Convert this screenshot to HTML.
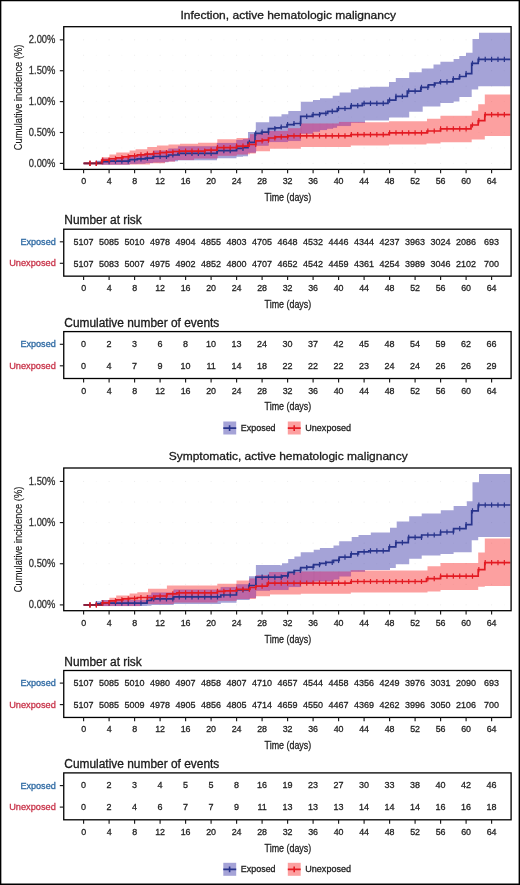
<!DOCTYPE html>
<html><head><meta charset="utf-8"><style>
html,body{margin:0;padding:0;background:#fff;}
svg{display:block;font-family:"Liberation Sans", sans-serif;-webkit-font-smoothing:antialiased;will-change:transform;}
</style></head><body>
<svg width="520" height="885" viewBox="0 0 520 885">
<rect x="0" y="0" width="520" height="885" fill="#fff"/>
<g transform="translate(0,0)">
<text x="288.20" y="18.60" font-size="11.4" text-anchor="middle" fill="#1a1a1a" stroke="#1a1a1a" stroke-width="0.3" textLength="215.6" lengthAdjust="spacingAndGlyphs" >Infection, active hematologic malignancy</text>
<path d="M83.10,163.40h1M83.10,147.96h1M83.10,132.51h1M83.10,117.06h1M83.10,101.62h1M83.10,86.18h1M83.10,70.73h1M83.10,55.28h1M83.10,39.84h1M108.60,163.40h1M108.60,147.96h1M108.60,132.51h1M108.60,117.06h1M108.60,101.62h1M108.60,86.18h1M108.60,70.73h1M108.60,55.28h1M108.60,39.84h1M134.10,163.40h1M134.10,147.96h1M134.10,132.51h1M134.10,117.06h1M134.10,101.62h1M134.10,86.18h1M134.10,70.73h1M134.10,55.28h1M134.10,39.84h1M159.60,163.40h1M159.60,147.96h1M159.60,132.51h1M159.60,117.06h1M159.60,101.62h1M159.60,86.18h1M159.60,70.73h1M159.60,55.28h1M159.60,39.84h1M185.10,163.40h1M185.10,147.96h1M185.10,132.51h1M185.10,117.06h1M185.10,101.62h1M185.10,86.18h1M185.10,70.73h1M185.10,55.28h1M185.10,39.84h1M210.60,163.40h1M210.60,147.96h1M210.60,132.51h1M210.60,117.06h1M210.60,101.62h1M210.60,86.18h1M210.60,70.73h1M210.60,55.28h1M210.60,39.84h1M236.10,163.40h1M236.10,147.96h1M236.10,132.51h1M236.10,117.06h1M236.10,101.62h1M236.10,86.18h1M236.10,70.73h1M236.10,55.28h1M236.10,39.84h1M261.60,163.40h1M261.60,147.96h1M261.60,132.51h1M261.60,117.06h1M261.60,101.62h1M261.60,86.18h1M261.60,70.73h1M261.60,55.28h1M261.60,39.84h1M287.10,163.40h1M287.10,147.96h1M287.10,132.51h1M287.10,117.06h1M287.10,101.62h1M287.10,86.18h1M287.10,70.73h1M287.10,55.28h1M287.10,39.84h1M312.60,163.40h1M312.60,147.96h1M312.60,132.51h1M312.60,117.06h1M312.60,101.62h1M312.60,86.18h1M312.60,70.73h1M312.60,55.28h1M312.60,39.84h1M338.10,163.40h1M338.10,147.96h1M338.10,132.51h1M338.10,117.06h1M338.10,101.62h1M338.10,86.18h1M338.10,70.73h1M338.10,55.28h1M338.10,39.84h1M363.60,163.40h1M363.60,147.96h1M363.60,132.51h1M363.60,117.06h1M363.60,101.62h1M363.60,86.18h1M363.60,70.73h1M363.60,55.28h1M363.60,39.84h1M389.10,163.40h1M389.10,147.96h1M389.10,132.51h1M389.10,117.06h1M389.10,101.62h1M389.10,86.18h1M389.10,70.73h1M389.10,55.28h1M389.10,39.84h1M414.60,163.40h1M414.60,147.96h1M414.60,132.51h1M414.60,117.06h1M414.60,101.62h1M414.60,86.18h1M414.60,70.73h1M414.60,55.28h1M414.60,39.84h1M440.10,163.40h1M440.10,147.96h1M440.10,132.51h1M440.10,117.06h1M440.10,101.62h1M440.10,86.18h1M440.10,70.73h1M440.10,55.28h1M440.10,39.84h1M465.60,163.40h1M465.60,147.96h1M465.60,132.51h1M465.60,117.06h1M465.60,101.62h1M465.60,86.18h1M465.60,70.73h1M465.60,55.28h1M465.60,39.84h1M491.10,163.40h1M491.10,147.96h1M491.10,132.51h1M491.10,117.06h1M491.10,101.62h1M491.10,86.18h1M491.10,70.73h1M491.10,55.28h1M491.10,39.84h1" stroke="#ececec" stroke-width="1" fill="none"/>
<path d="M95.85,163.40h1M95.85,147.96h1M95.85,132.51h1M95.85,117.06h1M95.85,101.62h1M95.85,86.18h1M95.85,70.73h1M95.85,55.28h1M95.85,39.84h1M121.35,163.40h1M121.35,147.96h1M121.35,132.51h1M121.35,117.06h1M121.35,101.62h1M121.35,86.18h1M121.35,70.73h1M121.35,55.28h1M121.35,39.84h1M146.85,163.40h1M146.85,147.96h1M146.85,132.51h1M146.85,117.06h1M146.85,101.62h1M146.85,86.18h1M146.85,70.73h1M146.85,55.28h1M146.85,39.84h1M172.35,163.40h1M172.35,147.96h1M172.35,132.51h1M172.35,117.06h1M172.35,101.62h1M172.35,86.18h1M172.35,70.73h1M172.35,55.28h1M172.35,39.84h1M197.85,163.40h1M197.85,147.96h1M197.85,132.51h1M197.85,117.06h1M197.85,101.62h1M197.85,86.18h1M197.85,70.73h1M197.85,55.28h1M197.85,39.84h1M223.35,163.40h1M223.35,147.96h1M223.35,132.51h1M223.35,117.06h1M223.35,101.62h1M223.35,86.18h1M223.35,70.73h1M223.35,55.28h1M223.35,39.84h1M248.85,163.40h1M248.85,147.96h1M248.85,132.51h1M248.85,117.06h1M248.85,101.62h1M248.85,86.18h1M248.85,70.73h1M248.85,55.28h1M248.85,39.84h1M274.35,163.40h1M274.35,147.96h1M274.35,132.51h1M274.35,117.06h1M274.35,101.62h1M274.35,86.18h1M274.35,70.73h1M274.35,55.28h1M274.35,39.84h1M299.85,163.40h1M299.85,147.96h1M299.85,132.51h1M299.85,117.06h1M299.85,101.62h1M299.85,86.18h1M299.85,70.73h1M299.85,55.28h1M299.85,39.84h1M325.35,163.40h1M325.35,147.96h1M325.35,132.51h1M325.35,117.06h1M325.35,101.62h1M325.35,86.18h1M325.35,70.73h1M325.35,55.28h1M325.35,39.84h1M350.85,163.40h1M350.85,147.96h1M350.85,132.51h1M350.85,117.06h1M350.85,101.62h1M350.85,86.18h1M350.85,70.73h1M350.85,55.28h1M350.85,39.84h1M376.35,163.40h1M376.35,147.96h1M376.35,132.51h1M376.35,117.06h1M376.35,101.62h1M376.35,86.18h1M376.35,70.73h1M376.35,55.28h1M376.35,39.84h1M401.85,163.40h1M401.85,147.96h1M401.85,132.51h1M401.85,117.06h1M401.85,101.62h1M401.85,86.18h1M401.85,70.73h1M401.85,55.28h1M401.85,39.84h1M427.35,163.40h1M427.35,147.96h1M427.35,132.51h1M427.35,117.06h1M427.35,101.62h1M427.35,86.18h1M427.35,70.73h1M427.35,55.28h1M427.35,39.84h1M452.85,163.40h1M452.85,147.96h1M452.85,132.51h1M452.85,117.06h1M452.85,101.62h1M452.85,86.18h1M452.85,70.73h1M452.85,55.28h1M452.85,39.84h1M478.35,163.40h1M478.35,147.96h1M478.35,132.51h1M478.35,117.06h1M478.35,101.62h1M478.35,86.18h1M478.35,70.73h1M478.35,55.28h1M478.35,39.84h1M503.85,163.40h1M503.85,147.96h1M503.85,132.51h1M503.85,117.06h1M503.85,101.62h1M503.85,86.18h1M503.85,70.73h1M503.85,55.28h1M503.85,39.84h1" stroke="#f7f7f7" stroke-width="1" fill="none"/>
<path d="M97.00,160.68 L101.70,160.68 L101.70,158.72 L109.40,158.72 L109.40,158.01 L129.60,158.01 L129.60,155.56 L137.30,155.56 L137.30,154.34 L145.40,154.34 L145.40,153.30 L153.00,153.30 L153.00,150.85 L168.50,150.85 L168.50,148.77 L178.00,148.77 L178.00,146.47 L217.00,146.47 L217.00,142.91 L236.50,142.91 L236.50,139.95 L243.00,139.95 L243.00,139.18 L248.00,139.18 L248.00,132.00 L255.80,132.00 L255.80,122.30 L256.00,122.30 L256.00,122.30 L268.50,122.30 L268.50,122.30 L269.20,122.30 L269.20,116.40 L281.50,116.40 L281.50,114.20 L288.00,114.20 L288.00,114.20 L288.30,114.20 L288.30,111.00 L300.70,111.00 L300.70,111.00 L300.80,111.00 L300.80,101.80 L313.00,101.80 L313.00,100.00 L320.00,100.00 L320.00,98.30 L327.00,98.30 L327.00,98.30 L332.70,98.30 L332.70,95.80 L333.00,95.80 L333.00,95.80 L337.00,95.80 L337.00,95.80 L339.60,95.80 L339.60,92.50 L350.80,92.50 L350.80,89.20 L358.50,89.20 L358.50,87.50 L365.00,87.50 L365.00,87.50 L370.00,87.50 L370.00,86.70 L389.00,86.70 L389.00,81.90 L395.80,81.90 L395.80,78.10 L409.20,78.10 L409.20,72.30 L421.70,72.30 L421.70,68.50 L422.70,68.50 L422.70,68.50 L433.50,68.50 L433.50,64.40 L440.40,64.40 L440.40,61.80 L453.60,61.80 L453.60,59.10 L459.30,59.10 L459.30,56.00 L459.40,56.00 L459.40,56.00 L466.00,56.00 L466.00,52.80 L471.70,52.80 L471.70,52.80 L472.50,52.80 L472.50,38.90 L478.20,38.90 L478.20,38.90 L479.00,38.90 L479.00,32.80 L510.30,32.80 L510.30,86.30 L479.00,86.30 L479.00,86.30 L478.20,86.30 L478.20,89.60 L472.50,89.60 L472.50,89.60 L471.70,89.60 L471.70,96.90 L466.00,96.90 L466.00,96.90 L459.40,96.90 L459.40,101.50 L459.30,101.50 L459.30,101.50 L453.60,101.50 L453.60,103.00 L440.40,103.00 L440.40,106.50 L433.50,106.50 L433.50,106.50 L422.70,106.50 L422.70,111.70 L421.70,111.70 L421.70,111.70 L409.20,111.70 L409.20,117.50 L395.80,117.50 L395.80,117.50 L389.00,117.50 L389.00,120.40 L370.00,120.40 L370.00,120.40 L365.00,120.40 L365.00,122.50 L358.50,122.50 L358.50,122.50 L350.80,122.50 L350.80,125.80 L339.60,125.80 L339.60,125.80 L337.00,125.80 L337.00,127.40 L333.00,127.40 L333.00,128.50 L332.70,128.50 L332.70,128.50 L327.00,128.50 L327.00,130.00 L320.00,130.00 L320.00,131.50 L313.00,131.50 L313.00,133.50 L300.80,133.50 L300.80,133.50 L300.70,133.50 L300.70,140.80 L288.30,140.80 L288.30,140.80 L288.00,140.80 L288.00,142.00 L281.50,142.00 L281.50,142.00 L269.20,142.00 L269.20,142.00 L268.50,142.00 L268.50,145.40 L256.00,145.40 L256.00,152.40 L255.80,152.40 L255.80,152.40 L248.00,152.40 L248.00,156.22 L243.00,156.22 L243.00,156.65 L236.50,156.65 L236.50,158.29 L217.00,158.29 L217.00,160.13 L178.00,160.13 L178.00,161.23 L168.50,161.23 L168.50,162.15 L153.00,162.15 L153.00,163.10 L145.40,163.10 L145.40,163.46 L137.30,163.46 L137.30,163.84 L129.60,163.84 L129.60,164.39 L109.40,164.39 L109.40,164.48 L101.70,164.48 L101.70,164.52 L97.00,164.52Z" fill="rgba(14,8,148,0.373)" stroke="none"/>
<path d="M101.70,157.30 L109.40,157.30 L109.40,154.40 L116.20,154.40 L116.20,152.50 L129.60,152.50 L129.60,150.60 L135.60,150.60 L135.60,149.20 L147.30,149.20 L147.30,147.00 L150.00,147.00 L150.00,147.00 L156.90,147.00 L156.90,145.40 L165.00,145.40 L165.00,145.40 L168.50,145.40 L168.50,144.40 L175.00,144.40 L175.00,144.40 L180.00,144.40 L180.00,143.80 L194.00,143.80 L194.00,143.80 L198.00,143.80 L198.00,142.70 L217.30,142.70 L217.30,139.20 L236.50,139.20 L236.50,137.90 L250.00,137.90 L250.00,134.50 L255.80,134.50 L255.80,134.50 L256.00,134.50 L256.00,133.50 L268.50,133.50 L268.50,131.00 L270.00,131.00 L270.00,131.00 L288.00,131.00 L288.00,128.50 L300.70,128.50 L300.70,123.80 L300.80,123.80 L300.80,123.80 L339.00,123.80 L339.00,122.00 L350.80,122.00 L350.80,122.00 L365.00,122.00 L365.00,122.30 L389.00,122.30 L389.00,121.30 L426.50,121.30 L426.50,121.30 L427.00,121.30 L427.00,118.80 L440.50,118.80 L440.50,115.70 L471.70,115.70 L471.70,110.80 L478.20,110.80 L478.20,104.30 L484.80,104.30 L484.80,94.50 L510.30,94.50 L510.30,136.10 L484.80,136.10 L484.80,139.40 L478.20,139.40 L478.20,139.40 L471.70,139.40 L471.70,142.20 L440.50,142.20 L440.50,143.50 L427.00,143.50 L427.00,143.50 L426.50,143.50 L426.50,144.40 L389.00,144.40 L389.00,145.40 L365.00,145.40 L365.00,145.40 L350.80,145.40 L350.80,146.90 L339.00,146.90 L339.00,146.90 L300.80,146.90 L300.80,148.80 L300.70,148.80 L300.70,148.80 L288.00,148.80 L288.00,148.80 L270.00,148.80 L270.00,151.30 L268.50,151.30 L268.50,151.30 L256.00,151.30 L256.00,151.30 L255.80,151.30 L255.80,153.50 L250.00,153.50 L250.00,154.20 L236.50,154.20 L236.50,155.50 L217.30,155.50 L217.30,158.20 L198.00,158.20 L198.00,158.20 L194.00,158.20 L194.00,160.00 L180.00,160.00 L180.00,160.00 L175.00,160.00 L175.00,161.50 L168.50,161.50 L168.50,161.50 L165.00,161.50 L165.00,163.20 L156.90,163.20 L156.90,163.20 L150.00,163.20 L150.00,164.40 L147.30,164.40 L147.30,164.40 L135.60,164.40 L135.60,164.40 L129.60,164.40 L129.60,164.40 L116.20,164.40 L116.20,164.40 L109.40,164.40 L109.40,164.40 L101.70,164.40Z" fill="rgba(247,0,0,0.373)" stroke="none"/>
<path d="M101.70,158.72H109.40V164.40H101.70ZM109.40,158.01H116.20V164.39H109.40ZM116.20,158.01H129.60V164.39H116.20ZM129.60,155.56H135.60V163.84H129.60ZM135.60,155.56H137.30V163.84H135.60ZM137.30,154.34H145.40V163.46H137.30ZM145.40,153.30H147.30V163.10H145.40ZM147.30,153.30H150.00V163.10H147.30ZM150.00,153.30H153.00V163.10H150.00ZM153.00,150.85H156.90V162.15H153.00ZM156.90,150.85H165.00V162.15H156.90ZM165.00,150.85H168.50V161.50H165.00ZM168.50,148.77H175.00V161.23H168.50ZM175.00,148.77H178.00V160.00H175.00ZM178.00,146.47H180.00V160.00H178.00ZM180.00,146.47H194.00V160.00H180.00ZM194.00,146.47H198.00V158.20H194.00ZM198.00,146.47H217.00V158.20H198.00ZM217.00,142.91H217.30V158.20H217.00ZM217.30,142.91H236.50V155.50H217.30ZM236.50,139.95H243.00V154.20H236.50ZM243.00,139.18H248.00V154.20H243.00ZM248.00,137.90H250.00V152.40H248.00ZM250.00,134.50H255.80V152.40H250.00ZM255.80,134.50H256.00V151.30H255.80ZM256.00,133.50H268.50V145.40H256.00ZM268.50,131.00H269.20V142.00H268.50ZM269.20,131.00H270.00V142.00H269.20ZM270.00,131.00H281.50V142.00H270.00ZM281.50,131.00H288.00V142.00H281.50ZM288.00,128.50H288.30V140.80H288.00ZM288.30,128.50H300.70V140.80H288.30ZM300.70,123.80H300.80V133.50H300.70ZM300.80,123.80H313.00V133.50H300.80ZM313.00,123.80H320.00V131.50H313.00ZM320.00,123.80H327.00V130.00H320.00ZM327.00,123.80H332.70V128.50H327.00ZM332.70,123.80H333.00V128.50H332.70ZM333.00,123.80H337.00V127.40H333.00ZM337.00,123.80H339.00V125.80H337.00ZM339.00,122.00H339.60V125.80H339.00ZM339.60,122.00H350.80V125.80H339.60ZM350.80,122.00H358.50V122.50H350.80ZM358.50,122.00H365.00V122.50H358.50Z" fill="rgb(190,102,165)" stroke="rgb(190,102,165)" stroke-width="0.15"/>
<path d="M83.60,163.40H97.00V162.60H101.70V161.60H109.40V161.20H129.60V159.70H137.30V158.90H145.40V158.20H153.00V156.50H168.50V155.00H178.00V153.30H217.00V150.60H236.50V148.30H243.00V147.70H248.00V142.30H255.00V133.30H261.50V132.20H268.50V128.70H275.40V127.90H281.00V127.00H287.00V124.70H293.80V123.50H300.70V116.40H312.30V114.60H320.00V113.30H327.70V111.30H337.30V108.50H350.80V105.60H362.30V103.40H388.00V100.20H395.80V96.30H407.30V91.20H420.80V87.30H428.50V84.80H435.00V83.00H440.00V81.90H453.00V78.90H459.40V76.50H466.00V73.70H471.70V63.40H478.20V59.30H510.30" fill="none" stroke="#28348c" stroke-width="1.7"/>
<path d="M89.97,160.80V166.00M96.35,160.80V166.00M102.72,159.00V164.20M109.10,159.00V164.20M115.47,158.60V163.80M121.85,158.60V163.80M128.22,158.60V163.80M134.60,157.10V162.30M140.97,156.30V161.50M147.35,155.60V160.80M153.72,153.90V159.10M160.10,153.90V159.10M166.47,153.90V159.10M172.85,152.40V157.60M179.22,150.70V155.90M185.60,150.70V155.90M191.97,150.70V155.90M198.35,150.70V155.90M204.72,150.70V155.90M211.10,150.70V155.90M217.47,148.00V153.20M223.85,148.00V153.20M230.22,148.00V153.20M236.60,145.70V150.90M242.97,145.70V150.90M249.35,139.70V144.90M255.72,130.70V135.90M262.10,129.60V134.80M268.48,129.60V134.80M274.85,126.10V131.30M281.23,124.40V129.60M287.60,122.10V127.30M293.98,120.90V126.10M300.35,120.90V126.10M306.73,113.80V119.00M313.10,112.00V117.20M319.48,112.00V117.20M325.85,110.70V115.90M332.23,108.70V113.90M338.60,105.90V111.10M344.98,105.90V111.10M351.35,103.00V108.20M357.73,103.00V108.20M364.10,100.80V106.00M370.48,100.80V106.00M376.85,100.80V106.00M383.23,100.80V106.00M389.60,97.60V102.80M395.98,93.70V98.90M402.35,93.70V98.90M408.73,88.60V93.80M415.10,88.60V93.80M421.48,84.70V89.90M427.85,84.70V89.90M434.23,82.20V87.40M440.60,79.30V84.50M446.98,79.30V84.50M453.35,76.30V81.50M459.73,73.90V79.10M466.10,71.10V76.30M472.48,60.80V66.00M478.85,56.70V61.90M485.23,56.70V61.90M491.60,56.70V61.90M497.98,56.70V61.90M504.35,56.70V61.90" stroke="#28348c" stroke-width="1.2" fill="none"/>
<path d="M83.60,163.40H101.70V160.20H109.40V158.75H116.20V157.80H122.90V156.80H129.60V155.90H137.30V154.90H145.00V154.20H153.00V153.50H160.00V152.70H166.50V152.10H173.00V151.50H180.00V151.10H205.00V150.20H217.00V147.60H236.50V146.20H248.00V144.50H255.80V140.80H262.70V140.20H268.50V138.00H275.40V136.80H288.00V135.80H350.80V134.60H389.00V132.90H427.00V131.00H440.50V128.90H471.00V125.00H478.20V120.60H484.80V114.60H510.30" fill="none" stroke="#e31a22" stroke-width="1.7"/>
<path d="M89.97,160.80V166.00M96.35,160.80V166.00M102.72,157.60V162.80M109.10,157.60V162.80M115.47,156.15V161.35M121.85,155.20V160.40M128.22,154.20V159.40M134.60,153.30V158.50M140.97,152.30V157.50M147.35,151.60V156.80M153.72,150.90V156.10M160.10,150.10V155.30M166.47,150.10V155.30M172.85,149.50V154.70M179.22,148.90V154.10M185.60,148.50V153.70M191.97,148.50V153.70M198.35,148.50V153.70M204.72,148.50V153.70M211.10,147.60V152.80M217.47,145.00V150.20M223.85,145.00V150.20M230.22,145.00V150.20M236.60,143.60V148.80M242.97,143.60V148.80M249.35,141.90V147.10M255.72,141.90V147.10M262.10,138.20V143.40M268.48,137.60V142.80M274.85,135.40V140.60M281.23,134.20V139.40M287.60,134.20V139.40M293.98,133.20V138.40M300.35,133.20V138.40M306.73,133.20V138.40M313.10,133.20V138.40M319.48,133.20V138.40M325.85,133.20V138.40M332.23,133.20V138.40M338.60,133.20V138.40M344.98,133.20V138.40M351.35,132.00V137.20M357.73,132.00V137.20M364.10,132.00V137.20M370.48,132.00V137.20M376.85,132.00V137.20M383.23,132.00V137.20M389.60,130.30V135.50M395.98,130.30V135.50M402.35,130.30V135.50M408.73,130.30V135.50M415.10,130.30V135.50M421.48,130.30V135.50M427.85,128.40V133.60M434.23,128.40V133.60M440.60,126.30V131.50M446.98,126.30V131.50M453.35,126.30V131.50M459.73,126.30V131.50M466.10,126.30V131.50M472.48,122.40V127.60M478.85,118.00V123.20M485.23,112.00V117.20M491.60,112.00V117.20M497.98,112.00V117.20M504.35,112.00V117.20" stroke="#e31a22" stroke-width="1.2" fill="none"/>
<path d="M83.6,163.40H101.70" stroke="#7a1d3c" stroke-width="1.5" fill="none"/>
<path d="M89.97,160.80V166.00M96.35,160.80V166.00" stroke="#e31a22" stroke-width="1.2" fill="none"/>
<rect x="63.75" y="26.7" width="447.35" height="142.70" fill="none" stroke="#000" stroke-width="1.3"/>
<line x1="59.8" y1="163.40" x2="63.75" y2="163.40" stroke="#1a1a1a" stroke-width="1.15"/>
<text transform="translate(55.40,166.70) scale(0.885,1)" font-size="10.6" text-anchor="end" fill="#333" stroke="#333" stroke-width="0.3" >0.00%</text>
<line x1="59.8" y1="132.51" x2="63.75" y2="132.51" stroke="#1a1a1a" stroke-width="1.15"/>
<text transform="translate(55.40,135.81) scale(0.885,1)" font-size="10.6" text-anchor="end" fill="#333" stroke="#333" stroke-width="0.3" >0.50%</text>
<line x1="59.8" y1="101.62" x2="63.75" y2="101.62" stroke="#1a1a1a" stroke-width="1.15"/>
<text transform="translate(55.40,104.92) scale(0.885,1)" font-size="10.6" text-anchor="end" fill="#333" stroke="#333" stroke-width="0.3" >1.00%</text>
<line x1="59.8" y1="70.73" x2="63.75" y2="70.73" stroke="#1a1a1a" stroke-width="1.15"/>
<text transform="translate(55.40,74.03) scale(0.885,1)" font-size="10.6" text-anchor="end" fill="#333" stroke="#333" stroke-width="0.3" >1.50%</text>
<line x1="59.8" y1="39.84" x2="63.75" y2="39.84" stroke="#1a1a1a" stroke-width="1.15"/>
<text transform="translate(55.40,43.14) scale(0.885,1)" font-size="10.6" text-anchor="end" fill="#333" stroke="#333" stroke-width="0.3" >2.00%</text>
<text transform="translate(21.6,97.4) rotate(-90)" font-size="11.2" text-anchor="middle" fill="#1a1a1a" stroke="#1a1a1a" stroke-width="0.15" textLength="105.5" lengthAdjust="spacingAndGlyphs">Cumulative incidence (%)</text>
<line x1="83.60" y1="169.4" x2="83.60" y2="173.3" stroke="#1a1a1a" stroke-width="1.15"/>
<text transform="translate(83.60,184.20) scale(0.9,1)" font-size="9.9" text-anchor="middle" fill="#222" stroke="#222" stroke-width="0.3" >0</text>
<line x1="109.10" y1="169.4" x2="109.10" y2="173.3" stroke="#1a1a1a" stroke-width="1.15"/>
<text transform="translate(109.10,184.20) scale(0.9,1)" font-size="9.9" text-anchor="middle" fill="#222" stroke="#222" stroke-width="0.3" >4</text>
<line x1="134.60" y1="169.4" x2="134.60" y2="173.3" stroke="#1a1a1a" stroke-width="1.15"/>
<text transform="translate(134.60,184.20) scale(0.9,1)" font-size="9.9" text-anchor="middle" fill="#222" stroke="#222" stroke-width="0.3" >8</text>
<line x1="160.10" y1="169.4" x2="160.10" y2="173.3" stroke="#1a1a1a" stroke-width="1.15"/>
<text transform="translate(160.10,184.20) scale(0.9,1)" font-size="9.9" text-anchor="middle" fill="#222" stroke="#222" stroke-width="0.3" >12</text>
<line x1="185.60" y1="169.4" x2="185.60" y2="173.3" stroke="#1a1a1a" stroke-width="1.15"/>
<text transform="translate(185.60,184.20) scale(0.9,1)" font-size="9.9" text-anchor="middle" fill="#222" stroke="#222" stroke-width="0.3" >16</text>
<line x1="211.10" y1="169.4" x2="211.10" y2="173.3" stroke="#1a1a1a" stroke-width="1.15"/>
<text transform="translate(211.10,184.20) scale(0.9,1)" font-size="9.9" text-anchor="middle" fill="#222" stroke="#222" stroke-width="0.3" >20</text>
<line x1="236.60" y1="169.4" x2="236.60" y2="173.3" stroke="#1a1a1a" stroke-width="1.15"/>
<text transform="translate(236.60,184.20) scale(0.9,1)" font-size="9.9" text-anchor="middle" fill="#222" stroke="#222" stroke-width="0.3" >24</text>
<line x1="262.10" y1="169.4" x2="262.10" y2="173.3" stroke="#1a1a1a" stroke-width="1.15"/>
<text transform="translate(262.10,184.20) scale(0.9,1)" font-size="9.9" text-anchor="middle" fill="#222" stroke="#222" stroke-width="0.3" >28</text>
<line x1="287.60" y1="169.4" x2="287.60" y2="173.3" stroke="#1a1a1a" stroke-width="1.15"/>
<text transform="translate(287.60,184.20) scale(0.9,1)" font-size="9.9" text-anchor="middle" fill="#222" stroke="#222" stroke-width="0.3" >32</text>
<line x1="313.10" y1="169.4" x2="313.10" y2="173.3" stroke="#1a1a1a" stroke-width="1.15"/>
<text transform="translate(313.10,184.20) scale(0.9,1)" font-size="9.9" text-anchor="middle" fill="#222" stroke="#222" stroke-width="0.3" >36</text>
<line x1="338.60" y1="169.4" x2="338.60" y2="173.3" stroke="#1a1a1a" stroke-width="1.15"/>
<text transform="translate(338.60,184.20) scale(0.9,1)" font-size="9.9" text-anchor="middle" fill="#222" stroke="#222" stroke-width="0.3" >40</text>
<line x1="364.10" y1="169.4" x2="364.10" y2="173.3" stroke="#1a1a1a" stroke-width="1.15"/>
<text transform="translate(364.10,184.20) scale(0.9,1)" font-size="9.9" text-anchor="middle" fill="#222" stroke="#222" stroke-width="0.3" >44</text>
<line x1="389.60" y1="169.4" x2="389.60" y2="173.3" stroke="#1a1a1a" stroke-width="1.15"/>
<text transform="translate(389.60,184.20) scale(0.9,1)" font-size="9.9" text-anchor="middle" fill="#222" stroke="#222" stroke-width="0.3" >48</text>
<line x1="415.10" y1="169.4" x2="415.10" y2="173.3" stroke="#1a1a1a" stroke-width="1.15"/>
<text transform="translate(415.10,184.20) scale(0.9,1)" font-size="9.9" text-anchor="middle" fill="#222" stroke="#222" stroke-width="0.3" >52</text>
<line x1="440.60" y1="169.4" x2="440.60" y2="173.3" stroke="#1a1a1a" stroke-width="1.15"/>
<text transform="translate(440.60,184.20) scale(0.9,1)" font-size="9.9" text-anchor="middle" fill="#222" stroke="#222" stroke-width="0.3" >56</text>
<line x1="466.10" y1="169.4" x2="466.10" y2="173.3" stroke="#1a1a1a" stroke-width="1.15"/>
<text transform="translate(466.10,184.20) scale(0.9,1)" font-size="9.9" text-anchor="middle" fill="#222" stroke="#222" stroke-width="0.3" >60</text>
<line x1="491.60" y1="169.4" x2="491.60" y2="173.3" stroke="#1a1a1a" stroke-width="1.15"/>
<text transform="translate(491.60,184.20) scale(0.9,1)" font-size="9.9" text-anchor="middle" fill="#222" stroke="#222" stroke-width="0.3" >64</text>
<text x="287.90" y="201.30" font-size="11.2" text-anchor="middle" fill="#222" stroke="#222" stroke-width="0.3" textLength="46.6" lengthAdjust="spacingAndGlyphs" >Time (days)</text>
<text x="64.30" y="224.30" font-size="12" text-anchor="start" fill="#1a1a1a" stroke="#1a1a1a" stroke-width="0.3" textLength="77.5" lengthAdjust="spacingAndGlyphs" >Number at risk</text>
<rect x="63.75" y="229.2" width="447.35" height="46.95" fill="none" stroke="#000" stroke-width="1.3"/>
<line x1="59.8" y1="241.80" x2="63.75" y2="241.80" stroke="#1a1a1a" stroke-width="1.15"/>
<line x1="59.8" y1="263.30" x2="63.75" y2="263.30" stroke="#1a1a1a" stroke-width="1.15"/>
<text x="55.80" y="244.80" font-size="9.2" text-anchor="end" fill="#2f6aa3" stroke="#2f6aa3" stroke-width="0.3" textLength="35.4" lengthAdjust="spacingAndGlyphs" >Exposed</text>
<text x="55.80" y="266.30" font-size="9.2" text-anchor="end" fill="#c8344a" stroke="#c8344a" stroke-width="0.3" textLength="46.6" lengthAdjust="spacingAndGlyphs" >Unexposed</text>
<text transform="translate(83.60,245.00) scale(0.91,1)" font-size="9.9" text-anchor="middle" fill="#222" stroke="#222" stroke-width="0.3" >5107</text>
<text transform="translate(83.60,266.50) scale(0.91,1)" font-size="9.9" text-anchor="middle" fill="#222" stroke="#222" stroke-width="0.3" >5107</text>
<text transform="translate(109.10,245.00) scale(0.91,1)" font-size="9.9" text-anchor="middle" fill="#222" stroke="#222" stroke-width="0.3" >5085</text>
<text transform="translate(109.10,266.50) scale(0.91,1)" font-size="9.9" text-anchor="middle" fill="#222" stroke="#222" stroke-width="0.3" >5083</text>
<text transform="translate(134.60,245.00) scale(0.91,1)" font-size="9.9" text-anchor="middle" fill="#222" stroke="#222" stroke-width="0.3" >5010</text>
<text transform="translate(134.60,266.50) scale(0.91,1)" font-size="9.9" text-anchor="middle" fill="#222" stroke="#222" stroke-width="0.3" >5007</text>
<text transform="translate(160.10,245.00) scale(0.91,1)" font-size="9.9" text-anchor="middle" fill="#222" stroke="#222" stroke-width="0.3" >4978</text>
<text transform="translate(160.10,266.50) scale(0.91,1)" font-size="9.9" text-anchor="middle" fill="#222" stroke="#222" stroke-width="0.3" >4975</text>
<text transform="translate(185.60,245.00) scale(0.91,1)" font-size="9.9" text-anchor="middle" fill="#222" stroke="#222" stroke-width="0.3" >4904</text>
<text transform="translate(185.60,266.50) scale(0.91,1)" font-size="9.9" text-anchor="middle" fill="#222" stroke="#222" stroke-width="0.3" >4902</text>
<text transform="translate(211.10,245.00) scale(0.91,1)" font-size="9.9" text-anchor="middle" fill="#222" stroke="#222" stroke-width="0.3" >4855</text>
<text transform="translate(211.10,266.50) scale(0.91,1)" font-size="9.9" text-anchor="middle" fill="#222" stroke="#222" stroke-width="0.3" >4852</text>
<text transform="translate(236.60,245.00) scale(0.91,1)" font-size="9.9" text-anchor="middle" fill="#222" stroke="#222" stroke-width="0.3" >4803</text>
<text transform="translate(236.60,266.50) scale(0.91,1)" font-size="9.9" text-anchor="middle" fill="#222" stroke="#222" stroke-width="0.3" >4800</text>
<text transform="translate(262.10,245.00) scale(0.91,1)" font-size="9.9" text-anchor="middle" fill="#222" stroke="#222" stroke-width="0.3" >4705</text>
<text transform="translate(262.10,266.50) scale(0.91,1)" font-size="9.9" text-anchor="middle" fill="#222" stroke="#222" stroke-width="0.3" >4707</text>
<text transform="translate(287.60,245.00) scale(0.91,1)" font-size="9.9" text-anchor="middle" fill="#222" stroke="#222" stroke-width="0.3" >4648</text>
<text transform="translate(287.60,266.50) scale(0.91,1)" font-size="9.9" text-anchor="middle" fill="#222" stroke="#222" stroke-width="0.3" >4652</text>
<text transform="translate(313.10,245.00) scale(0.91,1)" font-size="9.9" text-anchor="middle" fill="#222" stroke="#222" stroke-width="0.3" >4532</text>
<text transform="translate(313.10,266.50) scale(0.91,1)" font-size="9.9" text-anchor="middle" fill="#222" stroke="#222" stroke-width="0.3" >4542</text>
<text transform="translate(338.60,245.00) scale(0.91,1)" font-size="9.9" text-anchor="middle" fill="#222" stroke="#222" stroke-width="0.3" >4446</text>
<text transform="translate(338.60,266.50) scale(0.91,1)" font-size="9.9" text-anchor="middle" fill="#222" stroke="#222" stroke-width="0.3" >4459</text>
<text transform="translate(364.10,245.00) scale(0.91,1)" font-size="9.9" text-anchor="middle" fill="#222" stroke="#222" stroke-width="0.3" >4344</text>
<text transform="translate(364.10,266.50) scale(0.91,1)" font-size="9.9" text-anchor="middle" fill="#222" stroke="#222" stroke-width="0.3" >4361</text>
<text transform="translate(389.60,245.00) scale(0.91,1)" font-size="9.9" text-anchor="middle" fill="#222" stroke="#222" stroke-width="0.3" >4237</text>
<text transform="translate(389.60,266.50) scale(0.91,1)" font-size="9.9" text-anchor="middle" fill="#222" stroke="#222" stroke-width="0.3" >4254</text>
<text transform="translate(415.10,245.00) scale(0.91,1)" font-size="9.9" text-anchor="middle" fill="#222" stroke="#222" stroke-width="0.3" >3963</text>
<text transform="translate(415.10,266.50) scale(0.91,1)" font-size="9.9" text-anchor="middle" fill="#222" stroke="#222" stroke-width="0.3" >3989</text>
<text transform="translate(440.60,245.00) scale(0.91,1)" font-size="9.9" text-anchor="middle" fill="#222" stroke="#222" stroke-width="0.3" >3024</text>
<text transform="translate(440.60,266.50) scale(0.91,1)" font-size="9.9" text-anchor="middle" fill="#222" stroke="#222" stroke-width="0.3" >3046</text>
<text transform="translate(466.10,245.00) scale(0.91,1)" font-size="9.9" text-anchor="middle" fill="#222" stroke="#222" stroke-width="0.3" >2086</text>
<text transform="translate(466.10,266.50) scale(0.91,1)" font-size="9.9" text-anchor="middle" fill="#222" stroke="#222" stroke-width="0.3" >2102</text>
<text transform="translate(491.60,245.00) scale(0.91,1)" font-size="9.9" text-anchor="middle" fill="#222" stroke="#222" stroke-width="0.3" >693</text>
<text transform="translate(491.60,266.50) scale(0.91,1)" font-size="9.9" text-anchor="middle" fill="#222" stroke="#222" stroke-width="0.3" >700</text>
<line x1="83.60" y1="276.15" x2="83.60" y2="280.04999999999995" stroke="#1a1a1a" stroke-width="1.15"/>
<text transform="translate(83.60,291.10) scale(0.9,1)" font-size="9.9" text-anchor="middle" fill="#222" stroke="#222" stroke-width="0.3" >0</text>
<line x1="109.10" y1="276.15" x2="109.10" y2="280.04999999999995" stroke="#1a1a1a" stroke-width="1.15"/>
<text transform="translate(109.10,291.10) scale(0.9,1)" font-size="9.9" text-anchor="middle" fill="#222" stroke="#222" stroke-width="0.3" >4</text>
<line x1="134.60" y1="276.15" x2="134.60" y2="280.04999999999995" stroke="#1a1a1a" stroke-width="1.15"/>
<text transform="translate(134.60,291.10) scale(0.9,1)" font-size="9.9" text-anchor="middle" fill="#222" stroke="#222" stroke-width="0.3" >8</text>
<line x1="160.10" y1="276.15" x2="160.10" y2="280.04999999999995" stroke="#1a1a1a" stroke-width="1.15"/>
<text transform="translate(160.10,291.10) scale(0.9,1)" font-size="9.9" text-anchor="middle" fill="#222" stroke="#222" stroke-width="0.3" >12</text>
<line x1="185.60" y1="276.15" x2="185.60" y2="280.04999999999995" stroke="#1a1a1a" stroke-width="1.15"/>
<text transform="translate(185.60,291.10) scale(0.9,1)" font-size="9.9" text-anchor="middle" fill="#222" stroke="#222" stroke-width="0.3" >16</text>
<line x1="211.10" y1="276.15" x2="211.10" y2="280.04999999999995" stroke="#1a1a1a" stroke-width="1.15"/>
<text transform="translate(211.10,291.10) scale(0.9,1)" font-size="9.9" text-anchor="middle" fill="#222" stroke="#222" stroke-width="0.3" >20</text>
<line x1="236.60" y1="276.15" x2="236.60" y2="280.04999999999995" stroke="#1a1a1a" stroke-width="1.15"/>
<text transform="translate(236.60,291.10) scale(0.9,1)" font-size="9.9" text-anchor="middle" fill="#222" stroke="#222" stroke-width="0.3" >24</text>
<line x1="262.10" y1="276.15" x2="262.10" y2="280.04999999999995" stroke="#1a1a1a" stroke-width="1.15"/>
<text transform="translate(262.10,291.10) scale(0.9,1)" font-size="9.9" text-anchor="middle" fill="#222" stroke="#222" stroke-width="0.3" >28</text>
<line x1="287.60" y1="276.15" x2="287.60" y2="280.04999999999995" stroke="#1a1a1a" stroke-width="1.15"/>
<text transform="translate(287.60,291.10) scale(0.9,1)" font-size="9.9" text-anchor="middle" fill="#222" stroke="#222" stroke-width="0.3" >32</text>
<line x1="313.10" y1="276.15" x2="313.10" y2="280.04999999999995" stroke="#1a1a1a" stroke-width="1.15"/>
<text transform="translate(313.10,291.10) scale(0.9,1)" font-size="9.9" text-anchor="middle" fill="#222" stroke="#222" stroke-width="0.3" >36</text>
<line x1="338.60" y1="276.15" x2="338.60" y2="280.04999999999995" stroke="#1a1a1a" stroke-width="1.15"/>
<text transform="translate(338.60,291.10) scale(0.9,1)" font-size="9.9" text-anchor="middle" fill="#222" stroke="#222" stroke-width="0.3" >40</text>
<line x1="364.10" y1="276.15" x2="364.10" y2="280.04999999999995" stroke="#1a1a1a" stroke-width="1.15"/>
<text transform="translate(364.10,291.10) scale(0.9,1)" font-size="9.9" text-anchor="middle" fill="#222" stroke="#222" stroke-width="0.3" >44</text>
<line x1="389.60" y1="276.15" x2="389.60" y2="280.04999999999995" stroke="#1a1a1a" stroke-width="1.15"/>
<text transform="translate(389.60,291.10) scale(0.9,1)" font-size="9.9" text-anchor="middle" fill="#222" stroke="#222" stroke-width="0.3" >48</text>
<line x1="415.10" y1="276.15" x2="415.10" y2="280.04999999999995" stroke="#1a1a1a" stroke-width="1.15"/>
<text transform="translate(415.10,291.10) scale(0.9,1)" font-size="9.9" text-anchor="middle" fill="#222" stroke="#222" stroke-width="0.3" >52</text>
<line x1="440.60" y1="276.15" x2="440.60" y2="280.04999999999995" stroke="#1a1a1a" stroke-width="1.15"/>
<text transform="translate(440.60,291.10) scale(0.9,1)" font-size="9.9" text-anchor="middle" fill="#222" stroke="#222" stroke-width="0.3" >56</text>
<line x1="466.10" y1="276.15" x2="466.10" y2="280.04999999999995" stroke="#1a1a1a" stroke-width="1.15"/>
<text transform="translate(466.10,291.10) scale(0.9,1)" font-size="9.9" text-anchor="middle" fill="#222" stroke="#222" stroke-width="0.3" >60</text>
<line x1="491.60" y1="276.15" x2="491.60" y2="280.04999999999995" stroke="#1a1a1a" stroke-width="1.15"/>
<text transform="translate(491.60,291.10) scale(0.9,1)" font-size="9.9" text-anchor="middle" fill="#222" stroke="#222" stroke-width="0.3" >64</text>
<text x="287.90" y="307.70" font-size="11.2" text-anchor="middle" fill="#222" stroke="#222" stroke-width="0.3" textLength="46.6" lengthAdjust="spacingAndGlyphs" >Time (days)</text>
<text x="64.30" y="327.00" font-size="12" text-anchor="start" fill="#1a1a1a" stroke="#1a1a1a" stroke-width="0.3" textLength="155" lengthAdjust="spacingAndGlyphs" >Cumulative number of events</text>
<rect x="63.75" y="331.6" width="447.35" height="46.90" fill="none" stroke="#000" stroke-width="1.3"/>
<line x1="59.8" y1="344.30" x2="63.75" y2="344.30" stroke="#1a1a1a" stroke-width="1.15"/>
<line x1="59.8" y1="365.80" x2="63.75" y2="365.80" stroke="#1a1a1a" stroke-width="1.15"/>
<text x="55.80" y="347.30" font-size="9.2" text-anchor="end" fill="#2f6aa3" stroke="#2f6aa3" stroke-width="0.3" textLength="35.4" lengthAdjust="spacingAndGlyphs" >Exposed</text>
<text x="55.80" y="368.80" font-size="9.2" text-anchor="end" fill="#c8344a" stroke="#c8344a" stroke-width="0.3" textLength="46.6" lengthAdjust="spacingAndGlyphs" >Unexposed</text>
<text transform="translate(83.60,347.00) scale(0.91,1)" font-size="9.9" text-anchor="middle" fill="#222" stroke="#222" stroke-width="0.3" >0</text>
<text transform="translate(83.60,368.50) scale(0.91,1)" font-size="9.9" text-anchor="middle" fill="#222" stroke="#222" stroke-width="0.3" >0</text>
<text transform="translate(109.10,347.00) scale(0.91,1)" font-size="9.9" text-anchor="middle" fill="#222" stroke="#222" stroke-width="0.3" >2</text>
<text transform="translate(109.10,368.50) scale(0.91,1)" font-size="9.9" text-anchor="middle" fill="#222" stroke="#222" stroke-width="0.3" >4</text>
<text transform="translate(134.60,347.00) scale(0.91,1)" font-size="9.9" text-anchor="middle" fill="#222" stroke="#222" stroke-width="0.3" >3</text>
<text transform="translate(134.60,368.50) scale(0.91,1)" font-size="9.9" text-anchor="middle" fill="#222" stroke="#222" stroke-width="0.3" >7</text>
<text transform="translate(160.10,347.00) scale(0.91,1)" font-size="9.9" text-anchor="middle" fill="#222" stroke="#222" stroke-width="0.3" >6</text>
<text transform="translate(160.10,368.50) scale(0.91,1)" font-size="9.9" text-anchor="middle" fill="#222" stroke="#222" stroke-width="0.3" >9</text>
<text transform="translate(185.60,347.00) scale(0.91,1)" font-size="9.9" text-anchor="middle" fill="#222" stroke="#222" stroke-width="0.3" >8</text>
<text transform="translate(185.60,368.50) scale(0.91,1)" font-size="9.9" text-anchor="middle" fill="#222" stroke="#222" stroke-width="0.3" >10</text>
<text transform="translate(211.10,347.00) scale(0.91,1)" font-size="9.9" text-anchor="middle" fill="#222" stroke="#222" stroke-width="0.3" >10</text>
<text transform="translate(211.10,368.50) scale(0.91,1)" font-size="9.9" text-anchor="middle" fill="#222" stroke="#222" stroke-width="0.3" >11</text>
<text transform="translate(236.60,347.00) scale(0.91,1)" font-size="9.9" text-anchor="middle" fill="#222" stroke="#222" stroke-width="0.3" >13</text>
<text transform="translate(236.60,368.50) scale(0.91,1)" font-size="9.9" text-anchor="middle" fill="#222" stroke="#222" stroke-width="0.3" >14</text>
<text transform="translate(262.10,347.00) scale(0.91,1)" font-size="9.9" text-anchor="middle" fill="#222" stroke="#222" stroke-width="0.3" >24</text>
<text transform="translate(262.10,368.50) scale(0.91,1)" font-size="9.9" text-anchor="middle" fill="#222" stroke="#222" stroke-width="0.3" >18</text>
<text transform="translate(287.60,347.00) scale(0.91,1)" font-size="9.9" text-anchor="middle" fill="#222" stroke="#222" stroke-width="0.3" >30</text>
<text transform="translate(287.60,368.50) scale(0.91,1)" font-size="9.9" text-anchor="middle" fill="#222" stroke="#222" stroke-width="0.3" >22</text>
<text transform="translate(313.10,347.00) scale(0.91,1)" font-size="9.9" text-anchor="middle" fill="#222" stroke="#222" stroke-width="0.3" >37</text>
<text transform="translate(313.10,368.50) scale(0.91,1)" font-size="9.9" text-anchor="middle" fill="#222" stroke="#222" stroke-width="0.3" >22</text>
<text transform="translate(338.60,347.00) scale(0.91,1)" font-size="9.9" text-anchor="middle" fill="#222" stroke="#222" stroke-width="0.3" >42</text>
<text transform="translate(338.60,368.50) scale(0.91,1)" font-size="9.9" text-anchor="middle" fill="#222" stroke="#222" stroke-width="0.3" >22</text>
<text transform="translate(364.10,347.00) scale(0.91,1)" font-size="9.9" text-anchor="middle" fill="#222" stroke="#222" stroke-width="0.3" >45</text>
<text transform="translate(364.10,368.50) scale(0.91,1)" font-size="9.9" text-anchor="middle" fill="#222" stroke="#222" stroke-width="0.3" >23</text>
<text transform="translate(389.60,347.00) scale(0.91,1)" font-size="9.9" text-anchor="middle" fill="#222" stroke="#222" stroke-width="0.3" >48</text>
<text transform="translate(389.60,368.50) scale(0.91,1)" font-size="9.9" text-anchor="middle" fill="#222" stroke="#222" stroke-width="0.3" >24</text>
<text transform="translate(415.10,347.00) scale(0.91,1)" font-size="9.9" text-anchor="middle" fill="#222" stroke="#222" stroke-width="0.3" >54</text>
<text transform="translate(415.10,368.50) scale(0.91,1)" font-size="9.9" text-anchor="middle" fill="#222" stroke="#222" stroke-width="0.3" >24</text>
<text transform="translate(440.60,347.00) scale(0.91,1)" font-size="9.9" text-anchor="middle" fill="#222" stroke="#222" stroke-width="0.3" >59</text>
<text transform="translate(440.60,368.50) scale(0.91,1)" font-size="9.9" text-anchor="middle" fill="#222" stroke="#222" stroke-width="0.3" >26</text>
<text transform="translate(466.10,347.00) scale(0.91,1)" font-size="9.9" text-anchor="middle" fill="#222" stroke="#222" stroke-width="0.3" >62</text>
<text transform="translate(466.10,368.50) scale(0.91,1)" font-size="9.9" text-anchor="middle" fill="#222" stroke="#222" stroke-width="0.3" >26</text>
<text transform="translate(491.60,347.00) scale(0.91,1)" font-size="9.9" text-anchor="middle" fill="#222" stroke="#222" stroke-width="0.3" >66</text>
<text transform="translate(491.60,368.50) scale(0.91,1)" font-size="9.9" text-anchor="middle" fill="#222" stroke="#222" stroke-width="0.3" >29</text>
<line x1="83.60" y1="378.5" x2="83.60" y2="382.4" stroke="#1a1a1a" stroke-width="1.15"/>
<text transform="translate(83.60,393.50) scale(0.9,1)" font-size="9.9" text-anchor="middle" fill="#222" stroke="#222" stroke-width="0.3" >0</text>
<line x1="109.10" y1="378.5" x2="109.10" y2="382.4" stroke="#1a1a1a" stroke-width="1.15"/>
<text transform="translate(109.10,393.50) scale(0.9,1)" font-size="9.9" text-anchor="middle" fill="#222" stroke="#222" stroke-width="0.3" >4</text>
<line x1="134.60" y1="378.5" x2="134.60" y2="382.4" stroke="#1a1a1a" stroke-width="1.15"/>
<text transform="translate(134.60,393.50) scale(0.9,1)" font-size="9.9" text-anchor="middle" fill="#222" stroke="#222" stroke-width="0.3" >8</text>
<line x1="160.10" y1="378.5" x2="160.10" y2="382.4" stroke="#1a1a1a" stroke-width="1.15"/>
<text transform="translate(160.10,393.50) scale(0.9,1)" font-size="9.9" text-anchor="middle" fill="#222" stroke="#222" stroke-width="0.3" >12</text>
<line x1="185.60" y1="378.5" x2="185.60" y2="382.4" stroke="#1a1a1a" stroke-width="1.15"/>
<text transform="translate(185.60,393.50) scale(0.9,1)" font-size="9.9" text-anchor="middle" fill="#222" stroke="#222" stroke-width="0.3" >16</text>
<line x1="211.10" y1="378.5" x2="211.10" y2="382.4" stroke="#1a1a1a" stroke-width="1.15"/>
<text transform="translate(211.10,393.50) scale(0.9,1)" font-size="9.9" text-anchor="middle" fill="#222" stroke="#222" stroke-width="0.3" >20</text>
<line x1="236.60" y1="378.5" x2="236.60" y2="382.4" stroke="#1a1a1a" stroke-width="1.15"/>
<text transform="translate(236.60,393.50) scale(0.9,1)" font-size="9.9" text-anchor="middle" fill="#222" stroke="#222" stroke-width="0.3" >24</text>
<line x1="262.10" y1="378.5" x2="262.10" y2="382.4" stroke="#1a1a1a" stroke-width="1.15"/>
<text transform="translate(262.10,393.50) scale(0.9,1)" font-size="9.9" text-anchor="middle" fill="#222" stroke="#222" stroke-width="0.3" >28</text>
<line x1="287.60" y1="378.5" x2="287.60" y2="382.4" stroke="#1a1a1a" stroke-width="1.15"/>
<text transform="translate(287.60,393.50) scale(0.9,1)" font-size="9.9" text-anchor="middle" fill="#222" stroke="#222" stroke-width="0.3" >32</text>
<line x1="313.10" y1="378.5" x2="313.10" y2="382.4" stroke="#1a1a1a" stroke-width="1.15"/>
<text transform="translate(313.10,393.50) scale(0.9,1)" font-size="9.9" text-anchor="middle" fill="#222" stroke="#222" stroke-width="0.3" >36</text>
<line x1="338.60" y1="378.5" x2="338.60" y2="382.4" stroke="#1a1a1a" stroke-width="1.15"/>
<text transform="translate(338.60,393.50) scale(0.9,1)" font-size="9.9" text-anchor="middle" fill="#222" stroke="#222" stroke-width="0.3" >40</text>
<line x1="364.10" y1="378.5" x2="364.10" y2="382.4" stroke="#1a1a1a" stroke-width="1.15"/>
<text transform="translate(364.10,393.50) scale(0.9,1)" font-size="9.9" text-anchor="middle" fill="#222" stroke="#222" stroke-width="0.3" >44</text>
<line x1="389.60" y1="378.5" x2="389.60" y2="382.4" stroke="#1a1a1a" stroke-width="1.15"/>
<text transform="translate(389.60,393.50) scale(0.9,1)" font-size="9.9" text-anchor="middle" fill="#222" stroke="#222" stroke-width="0.3" >48</text>
<line x1="415.10" y1="378.5" x2="415.10" y2="382.4" stroke="#1a1a1a" stroke-width="1.15"/>
<text transform="translate(415.10,393.50) scale(0.9,1)" font-size="9.9" text-anchor="middle" fill="#222" stroke="#222" stroke-width="0.3" >52</text>
<line x1="440.60" y1="378.5" x2="440.60" y2="382.4" stroke="#1a1a1a" stroke-width="1.15"/>
<text transform="translate(440.60,393.50) scale(0.9,1)" font-size="9.9" text-anchor="middle" fill="#222" stroke="#222" stroke-width="0.3" >56</text>
<line x1="466.10" y1="378.5" x2="466.10" y2="382.4" stroke="#1a1a1a" stroke-width="1.15"/>
<text transform="translate(466.10,393.50) scale(0.9,1)" font-size="9.9" text-anchor="middle" fill="#222" stroke="#222" stroke-width="0.3" >60</text>
<line x1="491.60" y1="378.5" x2="491.60" y2="382.4" stroke="#1a1a1a" stroke-width="1.15"/>
<text transform="translate(491.60,393.50) scale(0.9,1)" font-size="9.9" text-anchor="middle" fill="#222" stroke="#222" stroke-width="0.3" >64</text>
<text x="287.90" y="410.30" font-size="11.2" text-anchor="middle" fill="#222" stroke="#222" stroke-width="0.3" textLength="46.6" lengthAdjust="spacingAndGlyphs" >Time (days)</text>
<rect x="223.3" y="421.5" width="12.9" height="13.0" fill="rgba(14,8,148,0.373)"/>
<path d="M223.3,428.1H236.2M229.6,425.3V430.9" stroke="#28348c" stroke-width="1.6" fill="none"/>
<text x="240.80" y="430.90" font-size="9.2" text-anchor="start" fill="#222" stroke="#222" stroke-width="0.3" textLength="34.8" lengthAdjust="spacingAndGlyphs" >Exposed</text>
<rect x="287.8" y="421.5" width="12.9" height="13.0" fill="rgba(247,0,0,0.373)"/>
<path d="M287.8,428.1H300.7M294.2,425.3V430.9" stroke="#e31a22" stroke-width="1.6" fill="none"/>
<text x="305.30" y="430.90" font-size="9.2" text-anchor="start" fill="#222" stroke="#222" stroke-width="0.3" textLength="45.7" lengthAdjust="spacingAndGlyphs" >Unexposed</text>
</g>
<g transform="translate(0,441.3)">
<text x="288.20" y="18.60" font-size="11.4" text-anchor="middle" fill="#1a1a1a" stroke="#1a1a1a" stroke-width="0.3" textLength="239" lengthAdjust="spacingAndGlyphs" >Symptomatic, active hematologic malignancy</text>
<path d="M83.10,163.60h1M83.10,143.02h1M83.10,122.45h1M83.10,101.87h1M83.10,81.30h1M83.10,60.72h1M83.10,40.15h1M108.60,163.60h1M108.60,143.02h1M108.60,122.45h1M108.60,101.87h1M108.60,81.30h1M108.60,60.72h1M108.60,40.15h1M134.10,163.60h1M134.10,143.02h1M134.10,122.45h1M134.10,101.87h1M134.10,81.30h1M134.10,60.72h1M134.10,40.15h1M159.60,163.60h1M159.60,143.02h1M159.60,122.45h1M159.60,101.87h1M159.60,81.30h1M159.60,60.72h1M159.60,40.15h1M185.10,163.60h1M185.10,143.02h1M185.10,122.45h1M185.10,101.87h1M185.10,81.30h1M185.10,60.72h1M185.10,40.15h1M210.60,163.60h1M210.60,143.02h1M210.60,122.45h1M210.60,101.87h1M210.60,81.30h1M210.60,60.72h1M210.60,40.15h1M236.10,163.60h1M236.10,143.02h1M236.10,122.45h1M236.10,101.87h1M236.10,81.30h1M236.10,60.72h1M236.10,40.15h1M261.60,163.60h1M261.60,143.02h1M261.60,122.45h1M261.60,101.87h1M261.60,81.30h1M261.60,60.72h1M261.60,40.15h1M287.10,163.60h1M287.10,143.02h1M287.10,122.45h1M287.10,101.87h1M287.10,81.30h1M287.10,60.72h1M287.10,40.15h1M312.60,163.60h1M312.60,143.02h1M312.60,122.45h1M312.60,101.87h1M312.60,81.30h1M312.60,60.72h1M312.60,40.15h1M338.10,163.60h1M338.10,143.02h1M338.10,122.45h1M338.10,101.87h1M338.10,81.30h1M338.10,60.72h1M338.10,40.15h1M363.60,163.60h1M363.60,143.02h1M363.60,122.45h1M363.60,101.87h1M363.60,81.30h1M363.60,60.72h1M363.60,40.15h1M389.10,163.60h1M389.10,143.02h1M389.10,122.45h1M389.10,101.87h1M389.10,81.30h1M389.10,60.72h1M389.10,40.15h1M414.60,163.60h1M414.60,143.02h1M414.60,122.45h1M414.60,101.87h1M414.60,81.30h1M414.60,60.72h1M414.60,40.15h1M440.10,163.60h1M440.10,143.02h1M440.10,122.45h1M440.10,101.87h1M440.10,81.30h1M440.10,60.72h1M440.10,40.15h1M465.60,163.60h1M465.60,143.02h1M465.60,122.45h1M465.60,101.87h1M465.60,81.30h1M465.60,60.72h1M465.60,40.15h1M491.10,163.60h1M491.10,143.02h1M491.10,122.45h1M491.10,101.87h1M491.10,81.30h1M491.10,60.72h1M491.10,40.15h1" stroke="#ececec" stroke-width="1" fill="none"/>
<path d="M95.85,163.60h1M95.85,143.02h1M95.85,122.45h1M95.85,101.87h1M95.85,81.30h1M95.85,60.72h1M95.85,40.15h1M121.35,163.60h1M121.35,143.02h1M121.35,122.45h1M121.35,101.87h1M121.35,81.30h1M121.35,60.72h1M121.35,40.15h1M146.85,163.60h1M146.85,143.02h1M146.85,122.45h1M146.85,101.87h1M146.85,81.30h1M146.85,60.72h1M146.85,40.15h1M172.35,163.60h1M172.35,143.02h1M172.35,122.45h1M172.35,101.87h1M172.35,81.30h1M172.35,60.72h1M172.35,40.15h1M197.85,163.60h1M197.85,143.02h1M197.85,122.45h1M197.85,101.87h1M197.85,81.30h1M197.85,60.72h1M197.85,40.15h1M223.35,163.60h1M223.35,143.02h1M223.35,122.45h1M223.35,101.87h1M223.35,81.30h1M223.35,60.72h1M223.35,40.15h1M248.85,163.60h1M248.85,143.02h1M248.85,122.45h1M248.85,101.87h1M248.85,81.30h1M248.85,60.72h1M248.85,40.15h1M274.35,163.60h1M274.35,143.02h1M274.35,122.45h1M274.35,101.87h1M274.35,81.30h1M274.35,60.72h1M274.35,40.15h1M299.85,163.60h1M299.85,143.02h1M299.85,122.45h1M299.85,101.87h1M299.85,81.30h1M299.85,60.72h1M299.85,40.15h1M325.35,163.60h1M325.35,143.02h1M325.35,122.45h1M325.35,101.87h1M325.35,81.30h1M325.35,60.72h1M325.35,40.15h1M350.85,163.60h1M350.85,143.02h1M350.85,122.45h1M350.85,101.87h1M350.85,81.30h1M350.85,60.72h1M350.85,40.15h1M376.35,163.60h1M376.35,143.02h1M376.35,122.45h1M376.35,101.87h1M376.35,81.30h1M376.35,60.72h1M376.35,40.15h1M401.85,163.60h1M401.85,143.02h1M401.85,122.45h1M401.85,101.87h1M401.85,81.30h1M401.85,60.72h1M401.85,40.15h1M427.35,163.60h1M427.35,143.02h1M427.35,122.45h1M427.35,101.87h1M427.35,81.30h1M427.35,60.72h1M427.35,40.15h1M452.85,163.60h1M452.85,143.02h1M452.85,122.45h1M452.85,101.87h1M452.85,81.30h1M452.85,60.72h1M452.85,40.15h1M478.35,163.60h1M478.35,143.02h1M478.35,122.45h1M478.35,101.87h1M478.35,81.30h1M478.35,60.72h1M478.35,40.15h1M503.85,163.60h1M503.85,143.02h1M503.85,122.45h1M503.85,101.87h1M503.85,81.30h1M503.85,60.72h1M503.85,40.15h1" stroke="#f7f7f7" stroke-width="1" fill="none"/>
<path d="M96.30,159.88 L101.00,159.88 L101.00,158.64 L147.00,158.64 L147.00,153.96 L151.50,153.96 L151.50,151.33 L173.70,151.33 L173.70,148.53 L220.80,148.53 L220.80,145.83 L236.50,145.83 L236.50,143.20 L249.00,143.20 L249.00,134.90 L249.60,134.90 L249.60,134.90 L255.90,134.90 L255.90,123.70 L270.00,123.70 L270.00,123.70 L280.00,123.70 L280.00,123.90 L282.00,123.90 L282.00,122.00 L288.20,122.00 L288.20,117.70 L288.30,117.70 L288.30,117.70 L294.40,117.70 L294.40,115.20 L300.70,115.20 L300.70,110.90 L300.80,110.90 L300.80,110.90 L313.70,110.90 L313.70,108.50 L314.20,108.50 L314.20,108.50 L319.90,108.50 L319.90,106.60 L333.50,106.60 L333.50,104.30 L339.20,104.30 L339.20,99.90 L350.80,99.90 L350.80,99.90 L351.70,99.90 L351.70,95.60 L358.50,95.60 L358.50,93.60 L365.00,93.60 L365.00,93.60 L370.80,93.60 L370.80,91.20 L390.00,91.20 L390.00,86.40 L395.80,86.40 L395.80,86.40 L396.70,86.40 L396.70,80.20 L409.20,80.20 L409.20,74.90 L421.70,74.90 L421.70,72.20 L440.50,72.20 L440.50,72.20 L440.80,72.20 L440.80,68.90 L453.60,68.90 L453.60,64.70 L466.80,64.70 L466.80,60.00 L471.70,60.00 L471.70,60.00 L472.50,60.00 L472.50,40.90 L478.20,40.90 L478.20,40.90 L479.00,40.90 L479.00,32.70 L510.30,32.70 L510.30,95.60 L479.00,95.60 L479.00,95.60 L478.20,95.60 L478.20,98.90 L472.50,98.90 L472.50,98.90 L471.70,98.90 L471.70,110.90 L466.80,110.90 L466.80,110.90 L453.60,110.90 L453.60,112.70 L440.80,112.70 L440.80,112.70 L440.50,112.70 L440.50,114.30 L421.70,114.30 L421.70,117.50 L409.20,117.50 L409.20,122.90 L396.70,122.90 L396.70,122.90 L395.80,122.90 L395.80,126.80 L390.00,126.80 L390.00,128.70 L370.80,128.70 L370.80,128.70 L365.00,128.70 L365.00,130.20 L358.50,130.20 L358.50,130.20 L351.70,130.20 L351.70,130.20 L350.80,130.20 L350.80,135.00 L339.20,135.00 L339.20,137.90 L333.50,137.90 L333.50,139.90 L319.90,139.90 L319.90,139.90 L314.20,139.90 L314.20,142.70 L313.70,142.70 L313.70,142.70 L300.80,142.70 L300.80,145.60 L300.70,145.60 L300.70,145.60 L294.40,145.60 L294.40,145.60 L288.30,145.60 L288.30,148.50 L288.20,148.50 L288.20,148.50 L282.00,148.50 L282.00,148.50 L280.00,148.50 L280.00,148.50 L270.00,148.50 L270.00,149.10 L255.90,149.10 L255.90,156.60 L249.60,156.60 L249.60,158.70 L249.00,158.70 L249.00,158.70 L236.50,158.70 L236.50,161.57 L220.80,161.57 L220.80,162.67 L173.70,162.67 L173.70,163.67 L151.50,163.67 L151.50,164.44 L147.00,164.44 L147.00,164.80 L101.00,164.80 L101.00,164.80 L96.30,164.80Z" fill="rgba(14,8,148,0.373)" stroke="none"/>
<path d="M102.00,159.20 L109.40,159.20 L109.40,156.50 L116.20,156.50 L116.20,154.10 L129.60,154.10 L129.60,152.20 L137.30,152.20 L137.30,151.00 L140.00,151.00 L140.00,151.00 L148.00,151.00 L148.00,147.50 L166.90,147.50 L166.90,144.10 L173.70,144.10 L173.70,144.10 L217.30,144.10 L217.30,142.40 L236.50,142.40 L236.50,139.30 L249.60,139.30 L249.60,137.50 L255.80,137.50 L255.80,137.50 L255.90,137.50 L255.90,134.30 L269.20,134.30 L269.20,131.00 L270.00,131.00 L270.00,131.00 L300.00,131.00 L300.00,130.50 L300.80,130.50 L300.80,130.50 L350.80,130.50 L350.80,129.20 L427.50,129.20 L427.50,124.90 L440.50,124.90 L440.50,121.60 L478.20,121.60 L478.20,111.10 L484.80,111.10 L484.80,97.30 L510.30,97.30 L510.30,144.70 L484.80,144.70 L484.80,145.50 L478.20,145.50 L478.20,148.80 L440.50,148.80 L440.50,150.20 L427.50,150.20 L427.50,151.20 L350.80,151.20 L350.80,152.40 L300.80,152.40 L300.80,153.30 L300.00,153.30 L300.00,153.30 L270.00,153.30 L270.00,154.90 L269.20,154.90 L269.20,154.90 L255.90,154.90 L255.90,154.90 L255.80,154.90 L255.80,157.70 L249.60,157.70 L249.60,157.70 L236.50,157.70 L236.50,159.30 L217.30,159.30 L217.30,160.90 L173.70,160.90 L173.70,162.40 L166.90,162.40 L166.90,162.40 L148.00,162.40 L148.00,162.40 L140.00,162.40 L140.00,164.70 L137.30,164.70 L137.30,164.70 L129.60,164.70 L129.60,164.70 L116.20,164.70 L116.20,164.70 L109.40,164.70 L109.40,164.70 L102.00,164.70Z" fill="rgba(247,0,0,0.373)" stroke="none"/>
<path d="M102.00,159.20H109.40V164.70H102.00ZM109.40,158.64H116.20V164.70H109.40ZM116.20,158.64H129.60V164.70H116.20ZM129.60,158.64H137.30V164.70H129.60ZM137.30,158.64H140.00V164.70H137.30ZM140.00,158.64H147.00V162.40H140.00ZM147.00,153.96H148.00V162.40H147.00ZM148.00,153.96H151.50V162.40H148.00ZM151.50,151.33H166.90V162.40H151.50ZM166.90,151.33H173.70V162.40H166.90ZM173.70,148.53H217.30V160.90H173.70ZM217.30,148.53H220.80V159.30H217.30ZM220.80,145.83H236.50V159.30H220.80ZM236.50,143.20H249.00V157.70H236.50ZM249.00,139.30H249.60V157.70H249.00ZM249.60,137.50H255.80V156.60H249.60ZM255.80,137.50H255.90V154.90H255.80ZM255.90,134.30H269.20V149.10H255.90ZM269.20,131.00H270.00V149.10H269.20ZM270.00,131.00H280.00V148.50H270.00ZM280.00,131.00H282.00V148.50H280.00ZM282.00,131.00H288.20V148.50H282.00ZM288.20,131.00H288.30V148.50H288.20ZM288.30,131.00H294.40V145.60H288.30ZM294.40,131.00H300.00V145.60H294.40ZM300.00,130.50H300.70V145.60H300.00ZM300.70,130.50H300.80V145.60H300.70ZM300.80,130.50H313.70V142.70H300.80ZM313.70,130.50H314.20V142.70H313.70ZM314.20,130.50H319.90V139.90H314.20ZM319.90,130.50H333.50V139.90H319.90ZM333.50,130.50H339.20V137.90H333.50ZM339.20,130.50H350.80V135.00H339.20ZM350.80,129.20H351.70V130.20H350.80ZM351.70,129.20H358.50V130.20H351.70ZM358.50,129.20H365.00V130.20H358.50Z" fill="rgb(190,102,165)" stroke="rgb(190,102,165)" stroke-width="0.15"/>
<path d="M83.60,163.70H96.30V162.50H101.00V161.90H147.00V159.20H151.50V157.50H173.70V155.60H220.80V153.70H236.50V148.70H249.00V144.20H255.90V135.90H282.00V134.50H288.20V131.10H294.40V129.20H300.70V126.30H307.00V125.80H313.70V123.40H319.90V122.00H326.00V121.00H333.50V119.10H339.20V115.80H350.80V112.50H358.50V110.60H368.80V109.50H389.00V105.60H395.80V101.40H408.30V96.00H421.70V93.70H440.50V90.70H453.60V87.40H466.00V83.40H471.70V69.50H478.20V63.70H510.30" fill="none" stroke="#28348c" stroke-width="1.7"/>
<path d="M89.97,161.10V166.30M96.35,159.90V165.10M102.72,159.30V164.50M109.10,159.30V164.50M115.47,159.30V164.50M121.85,159.30V164.50M128.22,159.30V164.50M134.60,159.30V164.50M140.97,159.30V164.50M147.35,156.60V161.80M153.72,154.90V160.10M160.10,154.90V160.10M166.47,154.90V160.10M172.85,154.90V160.10M179.22,153.00V158.20M185.60,153.00V158.20M191.97,153.00V158.20M198.35,153.00V158.20M204.72,153.00V158.20M211.10,153.00V158.20M217.47,153.00V158.20M223.85,151.10V156.30M230.22,151.10V156.30M236.60,146.10V151.30M242.97,146.10V151.30M249.35,141.60V146.80M255.72,141.60V146.80M262.10,133.30V138.50M268.48,133.30V138.50M274.85,133.30V138.50M281.23,133.30V138.50M287.60,131.90V137.10M293.98,128.50V133.70M300.35,126.60V131.80M306.73,123.70V128.90M313.10,123.20V128.40M319.48,120.80V126.00M325.85,119.40V124.60M332.23,118.40V123.60M338.60,116.50V121.70M344.98,113.20V118.40M351.35,109.90V115.10M357.73,109.90V115.10M364.10,108.00V113.20M370.48,106.90V112.10M376.85,106.90V112.10M383.23,106.90V112.10M389.60,103.00V108.20M395.98,98.80V104.00M402.35,98.80V104.00M408.73,93.40V98.60M415.10,93.40V98.60M421.48,93.40V98.60M427.85,91.10V96.30M434.23,91.10V96.30M440.60,88.10V93.30M446.98,88.10V93.30M453.35,88.10V93.30M459.73,84.80V90.00M466.10,80.80V86.00M472.48,66.90V72.10M478.85,61.10V66.30M485.23,61.10V66.30M491.60,61.10V66.30M497.98,61.10V66.30M504.35,61.10V66.30" stroke="#28348c" stroke-width="1.2" fill="none"/>
<path d="M83.60,163.70H102.00V161.50H109.40V159.60H116.20V158.60H122.90V157.60H129.60V157.00H137.30V156.20H155.00V154.70H167.00V152.50H176.90V151.60H217.30V150.00H225.00V149.50H236.50V148.10H250.00V146.20H255.80V144.90H267.30V141.90H350.80V140.20H426.50V137.40H440.50V134.90H478.20V128.30H484.80V121.40H510.30" fill="none" stroke="#e31a22" stroke-width="1.7"/>
<path d="M89.97,161.10V166.30M96.35,161.10V166.30M102.72,158.90V164.10M109.10,158.90V164.10M115.47,157.00V162.20M121.85,156.00V161.20M128.22,155.00V160.20M134.60,154.40V159.60M140.97,153.60V158.80M147.35,153.60V158.80M153.72,153.60V158.80M160.10,152.10V157.30M166.47,152.10V157.30M172.85,149.90V155.10M179.22,149.00V154.20M185.60,149.00V154.20M191.97,149.00V154.20M198.35,149.00V154.20M204.72,149.00V154.20M211.10,149.00V154.20M217.47,147.40V152.60M223.85,147.40V152.60M230.22,146.90V152.10M236.60,145.50V150.70M242.97,145.50V150.70M249.35,145.50V150.70M255.72,143.60V148.80M262.10,142.30V147.50M268.48,139.30V144.50M274.85,139.30V144.50M281.23,139.30V144.50M287.60,139.30V144.50M293.98,139.30V144.50M300.35,139.30V144.50M306.73,139.30V144.50M313.10,139.30V144.50M319.48,139.30V144.50M325.85,139.30V144.50M332.23,139.30V144.50M338.60,139.30V144.50M344.98,139.30V144.50M351.35,137.60V142.80M357.73,137.60V142.80M364.10,137.60V142.80M370.48,137.60V142.80M376.85,137.60V142.80M383.23,137.60V142.80M389.60,137.60V142.80M395.98,137.60V142.80M402.35,137.60V142.80M408.73,137.60V142.80M415.10,137.60V142.80M421.48,137.60V142.80M427.85,134.80V140.00M434.23,134.80V140.00M440.60,132.30V137.50M446.98,132.30V137.50M453.35,132.30V137.50M459.73,132.30V137.50M466.10,132.30V137.50M472.48,132.30V137.50M478.85,125.70V130.90M485.23,118.80V124.00M491.60,118.80V124.00M497.98,118.80V124.00M504.35,118.80V124.00" stroke="#e31a22" stroke-width="1.2" fill="none"/>
<path d="M83.6,163.60H102.00" stroke="#7a1d3c" stroke-width="1.5" fill="none"/>
<path d="M89.97,161.00V166.20M96.35,161.00V166.20" stroke="#e31a22" stroke-width="1.2" fill="none"/>
<rect x="63.75" y="26.7" width="447.35" height="142.70" fill="none" stroke="#000" stroke-width="1.3"/>
<line x1="59.8" y1="163.60" x2="63.75" y2="163.60" stroke="#1a1a1a" stroke-width="1.15"/>
<text transform="translate(55.40,166.90) scale(0.885,1)" font-size="10.6" text-anchor="end" fill="#333" stroke="#333" stroke-width="0.3" >0.00%</text>
<line x1="59.8" y1="122.45" x2="63.75" y2="122.45" stroke="#1a1a1a" stroke-width="1.15"/>
<text transform="translate(55.40,125.75) scale(0.885,1)" font-size="10.6" text-anchor="end" fill="#333" stroke="#333" stroke-width="0.3" >0.50%</text>
<line x1="59.8" y1="81.30" x2="63.75" y2="81.30" stroke="#1a1a1a" stroke-width="1.15"/>
<text transform="translate(55.40,84.60) scale(0.885,1)" font-size="10.6" text-anchor="end" fill="#333" stroke="#333" stroke-width="0.3" >1.00%</text>
<line x1="59.8" y1="40.15" x2="63.75" y2="40.15" stroke="#1a1a1a" stroke-width="1.15"/>
<text transform="translate(55.40,43.45) scale(0.885,1)" font-size="10.6" text-anchor="end" fill="#333" stroke="#333" stroke-width="0.3" >1.50%</text>
<text transform="translate(21.6,98.2) rotate(-90)" font-size="11.2" text-anchor="middle" fill="#1a1a1a" stroke="#1a1a1a" stroke-width="0.15" textLength="105.5" lengthAdjust="spacingAndGlyphs">Cumulative incidence (%)</text>
<line x1="83.60" y1="169.4" x2="83.60" y2="173.3" stroke="#1a1a1a" stroke-width="1.15"/>
<text transform="translate(83.60,184.20) scale(0.9,1)" font-size="9.9" text-anchor="middle" fill="#222" stroke="#222" stroke-width="0.3" >0</text>
<line x1="109.10" y1="169.4" x2="109.10" y2="173.3" stroke="#1a1a1a" stroke-width="1.15"/>
<text transform="translate(109.10,184.20) scale(0.9,1)" font-size="9.9" text-anchor="middle" fill="#222" stroke="#222" stroke-width="0.3" >4</text>
<line x1="134.60" y1="169.4" x2="134.60" y2="173.3" stroke="#1a1a1a" stroke-width="1.15"/>
<text transform="translate(134.60,184.20) scale(0.9,1)" font-size="9.9" text-anchor="middle" fill="#222" stroke="#222" stroke-width="0.3" >8</text>
<line x1="160.10" y1="169.4" x2="160.10" y2="173.3" stroke="#1a1a1a" stroke-width="1.15"/>
<text transform="translate(160.10,184.20) scale(0.9,1)" font-size="9.9" text-anchor="middle" fill="#222" stroke="#222" stroke-width="0.3" >12</text>
<line x1="185.60" y1="169.4" x2="185.60" y2="173.3" stroke="#1a1a1a" stroke-width="1.15"/>
<text transform="translate(185.60,184.20) scale(0.9,1)" font-size="9.9" text-anchor="middle" fill="#222" stroke="#222" stroke-width="0.3" >16</text>
<line x1="211.10" y1="169.4" x2="211.10" y2="173.3" stroke="#1a1a1a" stroke-width="1.15"/>
<text transform="translate(211.10,184.20) scale(0.9,1)" font-size="9.9" text-anchor="middle" fill="#222" stroke="#222" stroke-width="0.3" >20</text>
<line x1="236.60" y1="169.4" x2="236.60" y2="173.3" stroke="#1a1a1a" stroke-width="1.15"/>
<text transform="translate(236.60,184.20) scale(0.9,1)" font-size="9.9" text-anchor="middle" fill="#222" stroke="#222" stroke-width="0.3" >24</text>
<line x1="262.10" y1="169.4" x2="262.10" y2="173.3" stroke="#1a1a1a" stroke-width="1.15"/>
<text transform="translate(262.10,184.20) scale(0.9,1)" font-size="9.9" text-anchor="middle" fill="#222" stroke="#222" stroke-width="0.3" >28</text>
<line x1="287.60" y1="169.4" x2="287.60" y2="173.3" stroke="#1a1a1a" stroke-width="1.15"/>
<text transform="translate(287.60,184.20) scale(0.9,1)" font-size="9.9" text-anchor="middle" fill="#222" stroke="#222" stroke-width="0.3" >32</text>
<line x1="313.10" y1="169.4" x2="313.10" y2="173.3" stroke="#1a1a1a" stroke-width="1.15"/>
<text transform="translate(313.10,184.20) scale(0.9,1)" font-size="9.9" text-anchor="middle" fill="#222" stroke="#222" stroke-width="0.3" >36</text>
<line x1="338.60" y1="169.4" x2="338.60" y2="173.3" stroke="#1a1a1a" stroke-width="1.15"/>
<text transform="translate(338.60,184.20) scale(0.9,1)" font-size="9.9" text-anchor="middle" fill="#222" stroke="#222" stroke-width="0.3" >40</text>
<line x1="364.10" y1="169.4" x2="364.10" y2="173.3" stroke="#1a1a1a" stroke-width="1.15"/>
<text transform="translate(364.10,184.20) scale(0.9,1)" font-size="9.9" text-anchor="middle" fill="#222" stroke="#222" stroke-width="0.3" >44</text>
<line x1="389.60" y1="169.4" x2="389.60" y2="173.3" stroke="#1a1a1a" stroke-width="1.15"/>
<text transform="translate(389.60,184.20) scale(0.9,1)" font-size="9.9" text-anchor="middle" fill="#222" stroke="#222" stroke-width="0.3" >48</text>
<line x1="415.10" y1="169.4" x2="415.10" y2="173.3" stroke="#1a1a1a" stroke-width="1.15"/>
<text transform="translate(415.10,184.20) scale(0.9,1)" font-size="9.9" text-anchor="middle" fill="#222" stroke="#222" stroke-width="0.3" >52</text>
<line x1="440.60" y1="169.4" x2="440.60" y2="173.3" stroke="#1a1a1a" stroke-width="1.15"/>
<text transform="translate(440.60,184.20) scale(0.9,1)" font-size="9.9" text-anchor="middle" fill="#222" stroke="#222" stroke-width="0.3" >56</text>
<line x1="466.10" y1="169.4" x2="466.10" y2="173.3" stroke="#1a1a1a" stroke-width="1.15"/>
<text transform="translate(466.10,184.20) scale(0.9,1)" font-size="9.9" text-anchor="middle" fill="#222" stroke="#222" stroke-width="0.3" >60</text>
<line x1="491.60" y1="169.4" x2="491.60" y2="173.3" stroke="#1a1a1a" stroke-width="1.15"/>
<text transform="translate(491.60,184.20) scale(0.9,1)" font-size="9.9" text-anchor="middle" fill="#222" stroke="#222" stroke-width="0.3" >64</text>
<text x="287.90" y="201.30" font-size="11.2" text-anchor="middle" fill="#222" stroke="#222" stroke-width="0.3" textLength="46.6" lengthAdjust="spacingAndGlyphs" >Time (days)</text>
<text x="64.30" y="224.30" font-size="12" text-anchor="start" fill="#1a1a1a" stroke="#1a1a1a" stroke-width="0.3" textLength="77.5" lengthAdjust="spacingAndGlyphs" >Number at risk</text>
<rect x="63.75" y="229.2" width="447.35" height="46.95" fill="none" stroke="#000" stroke-width="1.3"/>
<line x1="59.8" y1="241.80" x2="63.75" y2="241.80" stroke="#1a1a1a" stroke-width="1.15"/>
<line x1="59.8" y1="263.30" x2="63.75" y2="263.30" stroke="#1a1a1a" stroke-width="1.15"/>
<text x="55.80" y="244.80" font-size="9.2" text-anchor="end" fill="#2f6aa3" stroke="#2f6aa3" stroke-width="0.3" textLength="35.4" lengthAdjust="spacingAndGlyphs" >Exposed</text>
<text x="55.80" y="266.30" font-size="9.2" text-anchor="end" fill="#c8344a" stroke="#c8344a" stroke-width="0.3" textLength="46.6" lengthAdjust="spacingAndGlyphs" >Unexposed</text>
<text transform="translate(83.60,245.00) scale(0.91,1)" font-size="9.9" text-anchor="middle" fill="#222" stroke="#222" stroke-width="0.3" >5107</text>
<text transform="translate(83.60,266.50) scale(0.91,1)" font-size="9.9" text-anchor="middle" fill="#222" stroke="#222" stroke-width="0.3" >5107</text>
<text transform="translate(109.10,245.00) scale(0.91,1)" font-size="9.9" text-anchor="middle" fill="#222" stroke="#222" stroke-width="0.3" >5085</text>
<text transform="translate(109.10,266.50) scale(0.91,1)" font-size="9.9" text-anchor="middle" fill="#222" stroke="#222" stroke-width="0.3" >5085</text>
<text transform="translate(134.60,245.00) scale(0.91,1)" font-size="9.9" text-anchor="middle" fill="#222" stroke="#222" stroke-width="0.3" >5010</text>
<text transform="translate(134.60,266.50) scale(0.91,1)" font-size="9.9" text-anchor="middle" fill="#222" stroke="#222" stroke-width="0.3" >5009</text>
<text transform="translate(160.10,245.00) scale(0.91,1)" font-size="9.9" text-anchor="middle" fill="#222" stroke="#222" stroke-width="0.3" >4980</text>
<text transform="translate(160.10,266.50) scale(0.91,1)" font-size="9.9" text-anchor="middle" fill="#222" stroke="#222" stroke-width="0.3" >4978</text>
<text transform="translate(185.60,245.00) scale(0.91,1)" font-size="9.9" text-anchor="middle" fill="#222" stroke="#222" stroke-width="0.3" >4907</text>
<text transform="translate(185.60,266.50) scale(0.91,1)" font-size="9.9" text-anchor="middle" fill="#222" stroke="#222" stroke-width="0.3" >4905</text>
<text transform="translate(211.10,245.00) scale(0.91,1)" font-size="9.9" text-anchor="middle" fill="#222" stroke="#222" stroke-width="0.3" >4858</text>
<text transform="translate(211.10,266.50) scale(0.91,1)" font-size="9.9" text-anchor="middle" fill="#222" stroke="#222" stroke-width="0.3" >4856</text>
<text transform="translate(236.60,245.00) scale(0.91,1)" font-size="9.9" text-anchor="middle" fill="#222" stroke="#222" stroke-width="0.3" >4807</text>
<text transform="translate(236.60,266.50) scale(0.91,1)" font-size="9.9" text-anchor="middle" fill="#222" stroke="#222" stroke-width="0.3" >4805</text>
<text transform="translate(262.10,245.00) scale(0.91,1)" font-size="9.9" text-anchor="middle" fill="#222" stroke="#222" stroke-width="0.3" >4710</text>
<text transform="translate(262.10,266.50) scale(0.91,1)" font-size="9.9" text-anchor="middle" fill="#222" stroke="#222" stroke-width="0.3" >4714</text>
<text transform="translate(287.60,245.00) scale(0.91,1)" font-size="9.9" text-anchor="middle" fill="#222" stroke="#222" stroke-width="0.3" >4657</text>
<text transform="translate(287.60,266.50) scale(0.91,1)" font-size="9.9" text-anchor="middle" fill="#222" stroke="#222" stroke-width="0.3" >4659</text>
<text transform="translate(313.10,245.00) scale(0.91,1)" font-size="9.9" text-anchor="middle" fill="#222" stroke="#222" stroke-width="0.3" >4544</text>
<text transform="translate(313.10,266.50) scale(0.91,1)" font-size="9.9" text-anchor="middle" fill="#222" stroke="#222" stroke-width="0.3" >4550</text>
<text transform="translate(338.60,245.00) scale(0.91,1)" font-size="9.9" text-anchor="middle" fill="#222" stroke="#222" stroke-width="0.3" >4458</text>
<text transform="translate(338.60,266.50) scale(0.91,1)" font-size="9.9" text-anchor="middle" fill="#222" stroke="#222" stroke-width="0.3" >4467</text>
<text transform="translate(364.10,245.00) scale(0.91,1)" font-size="9.9" text-anchor="middle" fill="#222" stroke="#222" stroke-width="0.3" >4356</text>
<text transform="translate(364.10,266.50) scale(0.91,1)" font-size="9.9" text-anchor="middle" fill="#222" stroke="#222" stroke-width="0.3" >4369</text>
<text transform="translate(389.60,245.00) scale(0.91,1)" font-size="9.9" text-anchor="middle" fill="#222" stroke="#222" stroke-width="0.3" >4249</text>
<text transform="translate(389.60,266.50) scale(0.91,1)" font-size="9.9" text-anchor="middle" fill="#222" stroke="#222" stroke-width="0.3" >4262</text>
<text transform="translate(415.10,245.00) scale(0.91,1)" font-size="9.9" text-anchor="middle" fill="#222" stroke="#222" stroke-width="0.3" >3976</text>
<text transform="translate(415.10,266.50) scale(0.91,1)" font-size="9.9" text-anchor="middle" fill="#222" stroke="#222" stroke-width="0.3" >3996</text>
<text transform="translate(440.60,245.00) scale(0.91,1)" font-size="9.9" text-anchor="middle" fill="#222" stroke="#222" stroke-width="0.3" >3031</text>
<text transform="translate(440.60,266.50) scale(0.91,1)" font-size="9.9" text-anchor="middle" fill="#222" stroke="#222" stroke-width="0.3" >3050</text>
<text transform="translate(466.10,245.00) scale(0.91,1)" font-size="9.9" text-anchor="middle" fill="#222" stroke="#222" stroke-width="0.3" >2090</text>
<text transform="translate(466.10,266.50) scale(0.91,1)" font-size="9.9" text-anchor="middle" fill="#222" stroke="#222" stroke-width="0.3" >2106</text>
<text transform="translate(491.60,245.00) scale(0.91,1)" font-size="9.9" text-anchor="middle" fill="#222" stroke="#222" stroke-width="0.3" >693</text>
<text transform="translate(491.60,266.50) scale(0.91,1)" font-size="9.9" text-anchor="middle" fill="#222" stroke="#222" stroke-width="0.3" >700</text>
<line x1="83.60" y1="276.15" x2="83.60" y2="280.04999999999995" stroke="#1a1a1a" stroke-width="1.15"/>
<text transform="translate(83.60,291.10) scale(0.9,1)" font-size="9.9" text-anchor="middle" fill="#222" stroke="#222" stroke-width="0.3" >0</text>
<line x1="109.10" y1="276.15" x2="109.10" y2="280.04999999999995" stroke="#1a1a1a" stroke-width="1.15"/>
<text transform="translate(109.10,291.10) scale(0.9,1)" font-size="9.9" text-anchor="middle" fill="#222" stroke="#222" stroke-width="0.3" >4</text>
<line x1="134.60" y1="276.15" x2="134.60" y2="280.04999999999995" stroke="#1a1a1a" stroke-width="1.15"/>
<text transform="translate(134.60,291.10) scale(0.9,1)" font-size="9.9" text-anchor="middle" fill="#222" stroke="#222" stroke-width="0.3" >8</text>
<line x1="160.10" y1="276.15" x2="160.10" y2="280.04999999999995" stroke="#1a1a1a" stroke-width="1.15"/>
<text transform="translate(160.10,291.10) scale(0.9,1)" font-size="9.9" text-anchor="middle" fill="#222" stroke="#222" stroke-width="0.3" >12</text>
<line x1="185.60" y1="276.15" x2="185.60" y2="280.04999999999995" stroke="#1a1a1a" stroke-width="1.15"/>
<text transform="translate(185.60,291.10) scale(0.9,1)" font-size="9.9" text-anchor="middle" fill="#222" stroke="#222" stroke-width="0.3" >16</text>
<line x1="211.10" y1="276.15" x2="211.10" y2="280.04999999999995" stroke="#1a1a1a" stroke-width="1.15"/>
<text transform="translate(211.10,291.10) scale(0.9,1)" font-size="9.9" text-anchor="middle" fill="#222" stroke="#222" stroke-width="0.3" >20</text>
<line x1="236.60" y1="276.15" x2="236.60" y2="280.04999999999995" stroke="#1a1a1a" stroke-width="1.15"/>
<text transform="translate(236.60,291.10) scale(0.9,1)" font-size="9.9" text-anchor="middle" fill="#222" stroke="#222" stroke-width="0.3" >24</text>
<line x1="262.10" y1="276.15" x2="262.10" y2="280.04999999999995" stroke="#1a1a1a" stroke-width="1.15"/>
<text transform="translate(262.10,291.10) scale(0.9,1)" font-size="9.9" text-anchor="middle" fill="#222" stroke="#222" stroke-width="0.3" >28</text>
<line x1="287.60" y1="276.15" x2="287.60" y2="280.04999999999995" stroke="#1a1a1a" stroke-width="1.15"/>
<text transform="translate(287.60,291.10) scale(0.9,1)" font-size="9.9" text-anchor="middle" fill="#222" stroke="#222" stroke-width="0.3" >32</text>
<line x1="313.10" y1="276.15" x2="313.10" y2="280.04999999999995" stroke="#1a1a1a" stroke-width="1.15"/>
<text transform="translate(313.10,291.10) scale(0.9,1)" font-size="9.9" text-anchor="middle" fill="#222" stroke="#222" stroke-width="0.3" >36</text>
<line x1="338.60" y1="276.15" x2="338.60" y2="280.04999999999995" stroke="#1a1a1a" stroke-width="1.15"/>
<text transform="translate(338.60,291.10) scale(0.9,1)" font-size="9.9" text-anchor="middle" fill="#222" stroke="#222" stroke-width="0.3" >40</text>
<line x1="364.10" y1="276.15" x2="364.10" y2="280.04999999999995" stroke="#1a1a1a" stroke-width="1.15"/>
<text transform="translate(364.10,291.10) scale(0.9,1)" font-size="9.9" text-anchor="middle" fill="#222" stroke="#222" stroke-width="0.3" >44</text>
<line x1="389.60" y1="276.15" x2="389.60" y2="280.04999999999995" stroke="#1a1a1a" stroke-width="1.15"/>
<text transform="translate(389.60,291.10) scale(0.9,1)" font-size="9.9" text-anchor="middle" fill="#222" stroke="#222" stroke-width="0.3" >48</text>
<line x1="415.10" y1="276.15" x2="415.10" y2="280.04999999999995" stroke="#1a1a1a" stroke-width="1.15"/>
<text transform="translate(415.10,291.10) scale(0.9,1)" font-size="9.9" text-anchor="middle" fill="#222" stroke="#222" stroke-width="0.3" >52</text>
<line x1="440.60" y1="276.15" x2="440.60" y2="280.04999999999995" stroke="#1a1a1a" stroke-width="1.15"/>
<text transform="translate(440.60,291.10) scale(0.9,1)" font-size="9.9" text-anchor="middle" fill="#222" stroke="#222" stroke-width="0.3" >56</text>
<line x1="466.10" y1="276.15" x2="466.10" y2="280.04999999999995" stroke="#1a1a1a" stroke-width="1.15"/>
<text transform="translate(466.10,291.10) scale(0.9,1)" font-size="9.9" text-anchor="middle" fill="#222" stroke="#222" stroke-width="0.3" >60</text>
<line x1="491.60" y1="276.15" x2="491.60" y2="280.04999999999995" stroke="#1a1a1a" stroke-width="1.15"/>
<text transform="translate(491.60,291.10) scale(0.9,1)" font-size="9.9" text-anchor="middle" fill="#222" stroke="#222" stroke-width="0.3" >64</text>
<text x="287.90" y="307.70" font-size="11.2" text-anchor="middle" fill="#222" stroke="#222" stroke-width="0.3" textLength="46.6" lengthAdjust="spacingAndGlyphs" >Time (days)</text>
<text x="64.30" y="327.00" font-size="12" text-anchor="start" fill="#1a1a1a" stroke="#1a1a1a" stroke-width="0.3" textLength="155" lengthAdjust="spacingAndGlyphs" >Cumulative number of events</text>
<rect x="63.75" y="331.6" width="447.35" height="46.90" fill="none" stroke="#000" stroke-width="1.3"/>
<line x1="59.8" y1="344.30" x2="63.75" y2="344.30" stroke="#1a1a1a" stroke-width="1.15"/>
<line x1="59.8" y1="365.80" x2="63.75" y2="365.80" stroke="#1a1a1a" stroke-width="1.15"/>
<text x="55.80" y="347.30" font-size="9.2" text-anchor="end" fill="#2f6aa3" stroke="#2f6aa3" stroke-width="0.3" textLength="35.4" lengthAdjust="spacingAndGlyphs" >Exposed</text>
<text x="55.80" y="368.80" font-size="9.2" text-anchor="end" fill="#c8344a" stroke="#c8344a" stroke-width="0.3" textLength="46.6" lengthAdjust="spacingAndGlyphs" >Unexposed</text>
<text transform="translate(83.60,347.00) scale(0.91,1)" font-size="9.9" text-anchor="middle" fill="#222" stroke="#222" stroke-width="0.3" >0</text>
<text transform="translate(83.60,368.50) scale(0.91,1)" font-size="9.9" text-anchor="middle" fill="#222" stroke="#222" stroke-width="0.3" >0</text>
<text transform="translate(109.10,347.00) scale(0.91,1)" font-size="9.9" text-anchor="middle" fill="#222" stroke="#222" stroke-width="0.3" >2</text>
<text transform="translate(109.10,368.50) scale(0.91,1)" font-size="9.9" text-anchor="middle" fill="#222" stroke="#222" stroke-width="0.3" >2</text>
<text transform="translate(134.60,347.00) scale(0.91,1)" font-size="9.9" text-anchor="middle" fill="#222" stroke="#222" stroke-width="0.3" >3</text>
<text transform="translate(134.60,368.50) scale(0.91,1)" font-size="9.9" text-anchor="middle" fill="#222" stroke="#222" stroke-width="0.3" >4</text>
<text transform="translate(160.10,347.00) scale(0.91,1)" font-size="9.9" text-anchor="middle" fill="#222" stroke="#222" stroke-width="0.3" >4</text>
<text transform="translate(160.10,368.50) scale(0.91,1)" font-size="9.9" text-anchor="middle" fill="#222" stroke="#222" stroke-width="0.3" >6</text>
<text transform="translate(185.60,347.00) scale(0.91,1)" font-size="9.9" text-anchor="middle" fill="#222" stroke="#222" stroke-width="0.3" >5</text>
<text transform="translate(185.60,368.50) scale(0.91,1)" font-size="9.9" text-anchor="middle" fill="#222" stroke="#222" stroke-width="0.3" >7</text>
<text transform="translate(211.10,347.00) scale(0.91,1)" font-size="9.9" text-anchor="middle" fill="#222" stroke="#222" stroke-width="0.3" >5</text>
<text transform="translate(211.10,368.50) scale(0.91,1)" font-size="9.9" text-anchor="middle" fill="#222" stroke="#222" stroke-width="0.3" >7</text>
<text transform="translate(236.60,347.00) scale(0.91,1)" font-size="9.9" text-anchor="middle" fill="#222" stroke="#222" stroke-width="0.3" >8</text>
<text transform="translate(236.60,368.50) scale(0.91,1)" font-size="9.9" text-anchor="middle" fill="#222" stroke="#222" stroke-width="0.3" >9</text>
<text transform="translate(262.10,347.00) scale(0.91,1)" font-size="9.9" text-anchor="middle" fill="#222" stroke="#222" stroke-width="0.3" >16</text>
<text transform="translate(262.10,368.50) scale(0.91,1)" font-size="9.9" text-anchor="middle" fill="#222" stroke="#222" stroke-width="0.3" >11</text>
<text transform="translate(287.60,347.00) scale(0.91,1)" font-size="9.9" text-anchor="middle" fill="#222" stroke="#222" stroke-width="0.3" >19</text>
<text transform="translate(287.60,368.50) scale(0.91,1)" font-size="9.9" text-anchor="middle" fill="#222" stroke="#222" stroke-width="0.3" >13</text>
<text transform="translate(313.10,347.00) scale(0.91,1)" font-size="9.9" text-anchor="middle" fill="#222" stroke="#222" stroke-width="0.3" >23</text>
<text transform="translate(313.10,368.50) scale(0.91,1)" font-size="9.9" text-anchor="middle" fill="#222" stroke="#222" stroke-width="0.3" >13</text>
<text transform="translate(338.60,347.00) scale(0.91,1)" font-size="9.9" text-anchor="middle" fill="#222" stroke="#222" stroke-width="0.3" >27</text>
<text transform="translate(338.60,368.50) scale(0.91,1)" font-size="9.9" text-anchor="middle" fill="#222" stroke="#222" stroke-width="0.3" >13</text>
<text transform="translate(364.10,347.00) scale(0.91,1)" font-size="9.9" text-anchor="middle" fill="#222" stroke="#222" stroke-width="0.3" >30</text>
<text transform="translate(364.10,368.50) scale(0.91,1)" font-size="9.9" text-anchor="middle" fill="#222" stroke="#222" stroke-width="0.3" >14</text>
<text transform="translate(389.60,347.00) scale(0.91,1)" font-size="9.9" text-anchor="middle" fill="#222" stroke="#222" stroke-width="0.3" >33</text>
<text transform="translate(389.60,368.50) scale(0.91,1)" font-size="9.9" text-anchor="middle" fill="#222" stroke="#222" stroke-width="0.3" >14</text>
<text transform="translate(415.10,347.00) scale(0.91,1)" font-size="9.9" text-anchor="middle" fill="#222" stroke="#222" stroke-width="0.3" >38</text>
<text transform="translate(415.10,368.50) scale(0.91,1)" font-size="9.9" text-anchor="middle" fill="#222" stroke="#222" stroke-width="0.3" >14</text>
<text transform="translate(440.60,347.00) scale(0.91,1)" font-size="9.9" text-anchor="middle" fill="#222" stroke="#222" stroke-width="0.3" >40</text>
<text transform="translate(440.60,368.50) scale(0.91,1)" font-size="9.9" text-anchor="middle" fill="#222" stroke="#222" stroke-width="0.3" >16</text>
<text transform="translate(466.10,347.00) scale(0.91,1)" font-size="9.9" text-anchor="middle" fill="#222" stroke="#222" stroke-width="0.3" >42</text>
<text transform="translate(466.10,368.50) scale(0.91,1)" font-size="9.9" text-anchor="middle" fill="#222" stroke="#222" stroke-width="0.3" >16</text>
<text transform="translate(491.60,347.00) scale(0.91,1)" font-size="9.9" text-anchor="middle" fill="#222" stroke="#222" stroke-width="0.3" >46</text>
<text transform="translate(491.60,368.50) scale(0.91,1)" font-size="9.9" text-anchor="middle" fill="#222" stroke="#222" stroke-width="0.3" >18</text>
<line x1="83.60" y1="378.5" x2="83.60" y2="382.4" stroke="#1a1a1a" stroke-width="1.15"/>
<text transform="translate(83.60,393.50) scale(0.9,1)" font-size="9.9" text-anchor="middle" fill="#222" stroke="#222" stroke-width="0.3" >0</text>
<line x1="109.10" y1="378.5" x2="109.10" y2="382.4" stroke="#1a1a1a" stroke-width="1.15"/>
<text transform="translate(109.10,393.50) scale(0.9,1)" font-size="9.9" text-anchor="middle" fill="#222" stroke="#222" stroke-width="0.3" >4</text>
<line x1="134.60" y1="378.5" x2="134.60" y2="382.4" stroke="#1a1a1a" stroke-width="1.15"/>
<text transform="translate(134.60,393.50) scale(0.9,1)" font-size="9.9" text-anchor="middle" fill="#222" stroke="#222" stroke-width="0.3" >8</text>
<line x1="160.10" y1="378.5" x2="160.10" y2="382.4" stroke="#1a1a1a" stroke-width="1.15"/>
<text transform="translate(160.10,393.50) scale(0.9,1)" font-size="9.9" text-anchor="middle" fill="#222" stroke="#222" stroke-width="0.3" >12</text>
<line x1="185.60" y1="378.5" x2="185.60" y2="382.4" stroke="#1a1a1a" stroke-width="1.15"/>
<text transform="translate(185.60,393.50) scale(0.9,1)" font-size="9.9" text-anchor="middle" fill="#222" stroke="#222" stroke-width="0.3" >16</text>
<line x1="211.10" y1="378.5" x2="211.10" y2="382.4" stroke="#1a1a1a" stroke-width="1.15"/>
<text transform="translate(211.10,393.50) scale(0.9,1)" font-size="9.9" text-anchor="middle" fill="#222" stroke="#222" stroke-width="0.3" >20</text>
<line x1="236.60" y1="378.5" x2="236.60" y2="382.4" stroke="#1a1a1a" stroke-width="1.15"/>
<text transform="translate(236.60,393.50) scale(0.9,1)" font-size="9.9" text-anchor="middle" fill="#222" stroke="#222" stroke-width="0.3" >24</text>
<line x1="262.10" y1="378.5" x2="262.10" y2="382.4" stroke="#1a1a1a" stroke-width="1.15"/>
<text transform="translate(262.10,393.50) scale(0.9,1)" font-size="9.9" text-anchor="middle" fill="#222" stroke="#222" stroke-width="0.3" >28</text>
<line x1="287.60" y1="378.5" x2="287.60" y2="382.4" stroke="#1a1a1a" stroke-width="1.15"/>
<text transform="translate(287.60,393.50) scale(0.9,1)" font-size="9.9" text-anchor="middle" fill="#222" stroke="#222" stroke-width="0.3" >32</text>
<line x1="313.10" y1="378.5" x2="313.10" y2="382.4" stroke="#1a1a1a" stroke-width="1.15"/>
<text transform="translate(313.10,393.50) scale(0.9,1)" font-size="9.9" text-anchor="middle" fill="#222" stroke="#222" stroke-width="0.3" >36</text>
<line x1="338.60" y1="378.5" x2="338.60" y2="382.4" stroke="#1a1a1a" stroke-width="1.15"/>
<text transform="translate(338.60,393.50) scale(0.9,1)" font-size="9.9" text-anchor="middle" fill="#222" stroke="#222" stroke-width="0.3" >40</text>
<line x1="364.10" y1="378.5" x2="364.10" y2="382.4" stroke="#1a1a1a" stroke-width="1.15"/>
<text transform="translate(364.10,393.50) scale(0.9,1)" font-size="9.9" text-anchor="middle" fill="#222" stroke="#222" stroke-width="0.3" >44</text>
<line x1="389.60" y1="378.5" x2="389.60" y2="382.4" stroke="#1a1a1a" stroke-width="1.15"/>
<text transform="translate(389.60,393.50) scale(0.9,1)" font-size="9.9" text-anchor="middle" fill="#222" stroke="#222" stroke-width="0.3" >48</text>
<line x1="415.10" y1="378.5" x2="415.10" y2="382.4" stroke="#1a1a1a" stroke-width="1.15"/>
<text transform="translate(415.10,393.50) scale(0.9,1)" font-size="9.9" text-anchor="middle" fill="#222" stroke="#222" stroke-width="0.3" >52</text>
<line x1="440.60" y1="378.5" x2="440.60" y2="382.4" stroke="#1a1a1a" stroke-width="1.15"/>
<text transform="translate(440.60,393.50) scale(0.9,1)" font-size="9.9" text-anchor="middle" fill="#222" stroke="#222" stroke-width="0.3" >56</text>
<line x1="466.10" y1="378.5" x2="466.10" y2="382.4" stroke="#1a1a1a" stroke-width="1.15"/>
<text transform="translate(466.10,393.50) scale(0.9,1)" font-size="9.9" text-anchor="middle" fill="#222" stroke="#222" stroke-width="0.3" >60</text>
<line x1="491.60" y1="378.5" x2="491.60" y2="382.4" stroke="#1a1a1a" stroke-width="1.15"/>
<text transform="translate(491.60,393.50) scale(0.9,1)" font-size="9.9" text-anchor="middle" fill="#222" stroke="#222" stroke-width="0.3" >64</text>
<text x="287.90" y="410.30" font-size="11.2" text-anchor="middle" fill="#222" stroke="#222" stroke-width="0.3" textLength="46.6" lengthAdjust="spacingAndGlyphs" >Time (days)</text>
<rect x="223.3" y="421.5" width="12.9" height="13.0" fill="rgba(14,8,148,0.373)"/>
<path d="M223.3,428.1H236.2M229.6,425.3V430.9" stroke="#28348c" stroke-width="1.6" fill="none"/>
<text x="240.80" y="430.90" font-size="9.2" text-anchor="start" fill="#222" stroke="#222" stroke-width="0.3" textLength="34.8" lengthAdjust="spacingAndGlyphs" >Exposed</text>
<rect x="287.8" y="421.5" width="12.9" height="13.0" fill="rgba(247,0,0,0.373)"/>
<path d="M287.8,428.1H300.7M294.2,425.3V430.9" stroke="#e31a22" stroke-width="1.6" fill="none"/>
<text x="305.30" y="430.90" font-size="9.2" text-anchor="start" fill="#222" stroke="#222" stroke-width="0.3" textLength="45.7" lengthAdjust="spacingAndGlyphs" >Unexposed</text>
</g>
<path d="M0.65,0.65H519.3V884.3H0.65Z" fill="none" stroke="#000" stroke-width="1.4"/>
</svg>
</body></html>
